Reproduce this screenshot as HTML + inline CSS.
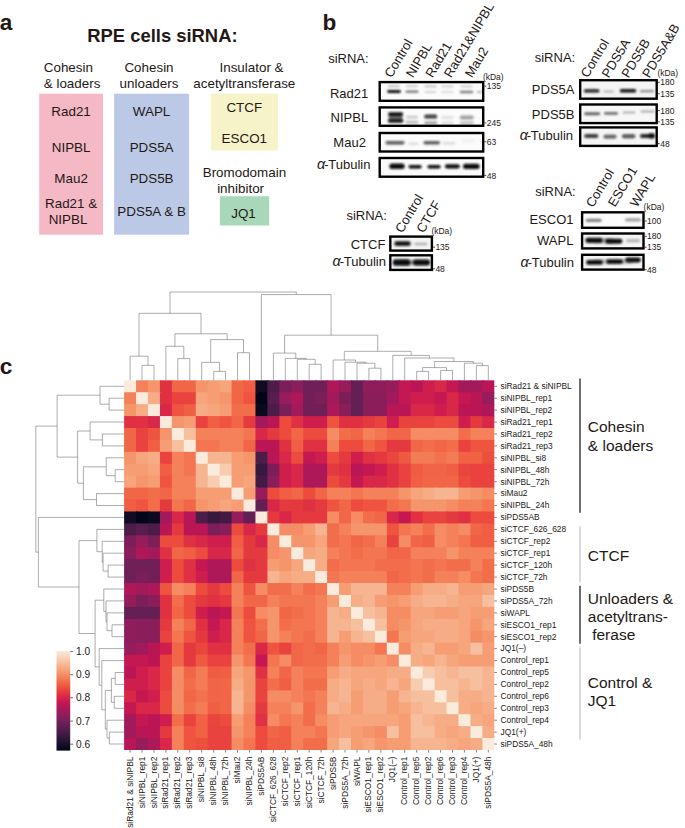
<!DOCTYPE html>
<html><head><meta charset="utf-8"><title>Figure</title>
<style>html,body{margin:0;padding:0;background:#fff}body{width:685px;height:828px;overflow:hidden}svg{display:block;font-family:"Liberation Sans",sans-serif}</style>
</head><body>
<svg width="685" height="828" viewBox="0 0 685 828">
<rect width="685" height="828" fill="#fff"/>
<g font-weight="bold" font-size="22.6" fill="#231815"><text x="-0.2" y="29.5">a</text><text x="322.6" y="29.5">b</text><text x="-0.2" y="373.6">c</text></g>
<text x="87.3" y="41.8" font-weight="bold" font-size="18.4" fill="#231815">RPE cells siRNA:</text>
<rect x="39.2" y="93.7" width="63.8" height="141" fill="#f5b9c5"/>
<rect x="114.1" y="93.7" width="75" height="141" fill="#bcc9e6"/>
<rect x="210.9" y="93.6" width="67" height="56.9" fill="#f7f3c8"/>
<rect x="219.9" y="196.2" width="49.3" height="29.3" fill="#a8d8b9"/>
<g font-size="13.4" fill="#231815">
<text x="43.8" y="71.8">Cohesin</text><text x="43.8" y="87.6">&amp; loaders</text>
<g text-anchor="middle">
<text x="149.0" y="71.8">Cohesin</text>
<text x="149.0" y="87.6">unloaders</text>
<text x="251.5" y="72.3">Insulator &amp;</text>
<text x="244.3" y="87.9">acetyltransferase</text>
<text x="244.4" y="177.4">Bromodomain</text>
<text x="240.6" y="193.4">inhibitor</text>
<text x="71.1" y="116.0">Rad21</text>
<text x="71.1" y="152.0">NIPBL</text>
<text x="71.1" y="182.8">Mau2</text>
<text x="71.1" y="208.1">Rad21 &amp;</text>
<text x="68.0" y="224.0">NIPBL</text>
<text x="151.6" y="116.0">WAPL</text>
<text x="151.6" y="152.0">PDS5A</text>
<text x="151.6" y="182.8">PDS5B</text>
<text x="151.6" y="215.8">PDS5A &amp; B</text>
<text x="244.3" y="112.0">CTCF</text>
<text x="244.3" y="142.9">ESCO1</text>
<text x="243.5" y="217.5">JQ1</text>
</g></g>
<defs><filter id="b1" x="-30%" y="-100%" width="160%" height="300%"><feGaussianBlur stdDeviation="1.15 0.85"/></filter><filter id="b2" x="-30%" y="-100%" width="160%" height="300%"><feGaussianBlur stdDeviation="1.6 1.0"/></filter></defs>
<clipPath id="c1"><rect x="378.5" y="80.9" width="105.9" height="21.1"/></clipPath>
<rect x="378.5" y="80.9" width="105.9" height="21.1" fill="#fbfbfb"/>
<g clip-path="url(#c1)" filter="url(#b1)">
<rect x="388.0" y="85.4" width="12.0" height="1.7" rx="0.8" fill="#0a0a0a" opacity="0.32"/>
<rect x="406.0" y="85.4" width="12.0" height="1.7" rx="0.8" fill="#0a0a0a" opacity="0.25"/>
<rect x="424.5" y="85.6" width="12.0" height="1.7" rx="0.8" fill="#0a0a0a" opacity="0.25"/>
<rect x="441.5" y="85.6" width="12.0" height="1.7" rx="0.8" fill="#0a0a0a" opacity="0.20"/>
<rect x="460.5" y="85.6" width="12.0" height="1.7" rx="0.8" fill="#0a0a0a" opacity="0.22"/>
<rect x="387.2" y="90.0" width="13.6" height="2.9" rx="1.4" fill="#0a0a0a" opacity="1.00"/>
<rect x="405.5" y="90.6" width="13.0" height="2.2" rx="1.0" fill="#0a0a0a" opacity="0.55"/>
<rect x="424.5" y="91.1" width="12.0" height="1.8" rx="0.9" fill="#0a0a0a" opacity="0.16"/>
<rect x="441.5" y="91.1" width="12.0" height="1.8" rx="0.9" fill="#0a0a0a" opacity="0.13"/>
<rect x="459.7" y="90.8" width="13.6" height="2.4" rx="1.1" fill="#0a0a0a" opacity="0.50"/>
<rect x="477.0" y="90.9" width="5.0" height="2.2" rx="1.0" fill="#0a0a0a" opacity="0.30"/>
</g>
<rect x="379.7" y="82.1" width="103.5" height="18.7" fill="none" stroke="#000" stroke-width="2.4"/>
<clipPath id="c2"><rect x="378.5" y="106.2" width="105.9" height="20.8"/></clipPath>
<rect x="378.5" y="106.2" width="105.9" height="20.8" fill="#fbfbfb"/>
<g clip-path="url(#c2)" filter="url(#b1)">
<rect x="388.1" y="112.2" width="15.0" height="3.9" rx="1.8" fill="#0a0a0a" opacity="1.00"/>
<rect x="387.8" y="118.9" width="15.6" height="3.9" rx="1.8" fill="#0a0a0a" opacity="0.95"/>
<rect x="388.6" y="114.6" width="14.0" height="5.9" rx="2.8" fill="#0a0a0a" opacity="0.55"/>
<rect x="406.0" y="115.7" width="12.0" height="2.9" rx="1.4" fill="#0a0a0a" opacity="0.20"/>
<rect x="405.5" y="120.8" width="13.0" height="2.9" rx="1.4" fill="#0a0a0a" opacity="0.25"/>
<rect x="424.2" y="114.6" width="13.0" height="4.0" rx="1.9" fill="#0a0a0a" opacity="0.80"/>
<rect x="424.2" y="121.4" width="13.0" height="2.9" rx="1.4" fill="#0a0a0a" opacity="0.38"/>
<rect x="441.5" y="116.0" width="12.0" height="2.9" rx="1.4" fill="#0a0a0a" opacity="0.10"/>
<rect x="441.5" y="121.4" width="12.0" height="2.9" rx="1.4" fill="#0a0a0a" opacity="0.12"/>
<rect x="459.8" y="115.4" width="14.0" height="4.2" rx="2.0" fill="#0a0a0a" opacity="0.36"/>
<rect x="459.8" y="121.4" width="14.0" height="2.9" rx="1.4" fill="#0a0a0a" opacity="0.25"/>
</g>
<rect x="379.7" y="107.4" width="103.5" height="18.4" fill="none" stroke="#000" stroke-width="2.4"/>
<clipPath id="c3"><rect x="378.5" y="131.8" width="105.9" height="20.9"/></clipPath>
<rect x="378.5" y="131.8" width="105.9" height="20.9" fill="#fbfbfb"/>
<g clip-path="url(#c3)" filter="url(#b1)">
<rect x="385.5" y="140.9" width="19.0" height="3.5" rx="1.7" fill="#0a0a0a" opacity="0.68"/>
<rect x="408.0" y="142.4" width="10.0" height="2.6" rx="1.2" fill="#0a0a0a" opacity="0.13"/>
<rect x="423.4" y="140.9" width="16.6" height="3.5" rx="1.7" fill="#0a0a0a" opacity="0.62"/>
<rect x="442.5" y="142.0" width="13.0" height="2.6" rx="1.2" fill="#0a0a0a" opacity="0.13"/>
<rect x="461.0" y="139.4" width="14.0" height="2.2" rx="1.0" fill="#0a0a0a" opacity="0.07"/>
</g>
<rect x="379.7" y="133.0" width="103.5" height="18.5" fill="none" stroke="#000" stroke-width="2.4"/>
<clipPath id="c4"><rect x="378.5" y="156.8" width="105.9" height="21.1"/></clipPath>
<rect x="378.5" y="156.8" width="105.9" height="21.1" fill="#fbfbfb"/>
<g clip-path="url(#c4)" filter="url(#b1)">
<rect x="389.4" y="163.6" width="15.2" height="5.3" rx="2.5" fill="#0a0a0a" opacity="1.00"/>
<rect x="408.5" y="164.9" width="13.2" height="3.5" rx="1.7" fill="#0a0a0a" opacity="1.00"/>
<rect x="427.4" y="164.9" width="13.2" height="3.5" rx="1.7" fill="#0a0a0a" opacity="1.00"/>
<rect x="445.0" y="164.2" width="14.8" height="4.4" rx="2.1" fill="#0a0a0a" opacity="1.00"/>
<rect x="463.0" y="163.7" width="16.6" height="5.3" rx="2.5" fill="#0a0a0a" opacity="1.00"/>
</g>
<rect x="379.7" y="158.0" width="103.5" height="18.7" fill="none" stroke="#000" stroke-width="2.4"/>
<clipPath id="c5"><rect x="579.0" y="79.0" width="78.9" height="20.9"/></clipPath>
<rect x="579.0" y="79.0" width="78.9" height="20.9" fill="#f4f4f4"/>
<g clip-path="url(#c5)" filter="url(#b1)">
<rect x="583.9" y="89.2" width="15.6" height="3.3" rx="1.6" fill="#0a0a0a" opacity="0.92"/>
<rect x="603.3" y="90.6" width="10.4" height="2.0" rx="1.0" fill="#0a0a0a" opacity="0.28"/>
<rect x="619.8" y="88.9" width="16.4" height="3.7" rx="1.7" fill="#0a0a0a" opacity="0.97"/>
<rect x="640.0" y="89.9" width="14.0" height="2.4" rx="1.1" fill="#0a0a0a" opacity="0.42"/>
</g>
<rect x="580.2" y="80.2" width="76.5" height="18.5" fill="none" stroke="#000" stroke-width="2.4"/>
<clipPath id="c6"><rect x="579.0" y="103.3" width="78.9" height="21.0"/></clipPath>
<rect x="579.0" y="103.3" width="78.9" height="21.0" fill="#f7f7f7"/>
<g clip-path="url(#c6)" filter="url(#b1)">
<rect x="584.2" y="112.3" width="16.0" height="2.9" rx="1.4" fill="#0a0a0a" opacity="0.60"/>
<rect x="604.0" y="112.0" width="14.0" height="2.8" rx="1.3" fill="#0a0a0a" opacity="0.55"/>
<rect x="622.5" y="111.6" width="13.0" height="2.0" rx="1.0" fill="#0a0a0a" opacity="0.30"/>
<rect x="640.5" y="110.6" width="14.0" height="2.0" rx="1.0" fill="#0a0a0a" opacity="0.33"/>
</g>
<rect x="580.2" y="104.5" width="76.5" height="18.6" fill="none" stroke="#000" stroke-width="2.4"/>
<clipPath id="c7"><rect x="579.0" y="126.2" width="78.9" height="20.9"/></clipPath>
<rect x="579.0" y="126.2" width="78.9" height="20.9" fill="#f4f4f4"/>
<g clip-path="url(#c7)" filter="url(#b1)">
<rect x="584.3" y="134.1" width="14.0" height="3.9" rx="1.8" fill="#0a0a0a" opacity="0.80"/>
<rect x="603.5" y="134.7" width="13.0" height="3.9" rx="1.8" fill="#0a0a0a" opacity="0.66"/>
<rect x="622.0" y="134.3" width="13.4" height="3.9" rx="1.8" fill="#0a0a0a" opacity="0.70"/>
<rect x="640.0" y="134.0" width="12.0" height="4.0" rx="1.9" fill="#0a0a0a" opacity="0.90"/>
<rect x="647.9" y="133.3" width="7.2" height="5.3" rx="2.5" fill="#0a0a0a" opacity="1.00"/>
</g>
<rect x="580.2" y="127.4" width="76.5" height="18.5" fill="none" stroke="#000" stroke-width="2.4"/>
<clipPath id="c8"><rect x="389.1" y="235.4" width="44.0" height="16.4"/></clipPath>
<rect x="389.1" y="235.4" width="44.0" height="16.4" fill="#f4f4f4"/>
<g clip-path="url(#c8)" filter="url(#b1)">
<rect x="394.7" y="241.5" width="15.6" height="4.2" rx="2.0" fill="#0a0a0a" opacity="1.00"/>
<rect x="393.5" y="240.8" width="18.0" height="5.5" rx="2.6" fill="#0a0a0a" opacity="0.25"/>
<rect x="414.4" y="242.7" width="13.0" height="2.6" rx="1.2" fill="#0a0a0a" opacity="0.28"/>
</g>
<rect x="390.3" y="236.6" width="41.6" height="14.0" fill="none" stroke="#000" stroke-width="2.4"/>
<clipPath id="c9"><rect x="389.1" y="254.1" width="44.0" height="17.0"/></clipPath>
<rect x="389.1" y="254.1" width="44.0" height="17.0" fill="#f4f4f4"/>
<g clip-path="url(#c9)" filter="url(#b1)">
<rect x="392.8" y="259.2" width="17.6" height="6.6" rx="3.1" fill="#0a0a0a" opacity="1.00"/>
<rect x="412.9" y="259.5" width="17.2" height="5.9" rx="2.8" fill="#0a0a0a" opacity="1.00"/>
<rect x="399.0" y="259.7" width="24.0" height="5.5" rx="2.6" fill="#0a0a0a" opacity="0.35"/>
</g>
<rect x="390.3" y="255.3" width="41.6" height="14.6" fill="none" stroke="#000" stroke-width="2.4"/>
<clipPath id="c10"><rect x="580.9" y="211.1" width="63.8" height="17.9"/></clipPath>
<rect x="580.9" y="211.1" width="63.8" height="17.9" fill="#fbfbfb"/>
<g clip-path="url(#c10)" filter="url(#b1)">
<rect x="585.7" y="218.7" width="16.0" height="3.3" rx="1.6" fill="#0a0a0a" opacity="0.48"/>
<rect x="625.0" y="218.3" width="16.0" height="3.1" rx="1.5" fill="#0a0a0a" opacity="0.36"/>
</g>
<rect x="582.1" y="212.3" width="61.4" height="15.5" fill="none" stroke="#000" stroke-width="2.4"/>
<clipPath id="c11"><rect x="580.9" y="232.3" width="63.8" height="17.3"/></clipPath>
<rect x="580.9" y="232.3" width="63.8" height="17.3" fill="#f4f4f4"/>
<g clip-path="url(#c11)" filter="url(#b1)">
<rect x="585.4" y="237.8" width="17.2" height="5.2" rx="2.4" fill="#0a0a0a" opacity="1.00"/>
<rect x="605.2" y="238.7" width="17.2" height="5.0" rx="2.4" fill="#0a0a0a" opacity="1.00"/>
<rect x="594.0" y="238.0" width="20.0" height="5.5" rx="2.6" fill="#0a0a0a" opacity="0.30"/>
<rect x="626.0" y="239.3" width="14.0" height="2.9" rx="1.4" fill="#0a0a0a" opacity="0.27"/>
</g>
<rect x="582.1" y="233.5" width="61.4" height="14.9" fill="none" stroke="#000" stroke-width="2.4"/>
<clipPath id="c12"><rect x="580.9" y="253.6" width="63.8" height="17.2"/></clipPath>
<rect x="580.9" y="253.6" width="63.8" height="17.2" fill="#f4f4f4"/>
<g clip-path="url(#c12)" filter="url(#b1)">
<rect x="586.2" y="260.1" width="16.6" height="4.6" rx="2.2" fill="#0a0a0a" opacity="1.00"/>
<rect x="606.3" y="259.3" width="16.6" height="4.6" rx="2.2" fill="#0a0a0a" opacity="1.00"/>
<rect x="625.2" y="257.6" width="15.6" height="4.8" rx="2.3" fill="#0a0a0a" opacity="1.00"/>
<rect x="593.0" y="259.1" width="40.0" height="4.8" rx="2.3" fill="#0a0a0a" opacity="0.22"/>
</g>
<rect x="582.1" y="254.8" width="61.4" height="14.8" fill="none" stroke="#000" stroke-width="2.4"/>
<g font-size="13" fill="#231815" text-anchor="end">
<text x="368.6" y="62.6">siRNA:</text>
<text x="368.2" y="98.2">Rad21</text>
<text x="368.2" y="122.0">NIPBL</text>
<text x="365.9" y="146.6">Mau2</text>
<text x="575.2" y="62.0">siRNA:</text>
<text x="574.5" y="94.4">PDS5A</text>
<text x="574.5" y="119.0">PDS5B</text>
<text x="386.9" y="219.9">siRNA:</text>
<text x="385.4" y="248.5">CTCF</text>
<text x="575.7" y="196.2">siRNA:</text>
<text x="573.5" y="224.0">ESCO1</text>
<text x="573.4" y="244.8">WAPL</text>
<text x="370.4" y="169.1"><tspan font-style="italic" font-size="14.5">α</tspan><tspan dx="-1.2">-</tspan><tspan dx="-0.3">Tubulin</tspan></text>
<text x="573.0" y="140.3"><tspan font-style="italic" font-size="14.5">α</tspan><tspan dx="-1.2">-</tspan><tspan dx="-0.3">Tubulin</tspan></text>
<text x="385.9" y="265.7"><tspan font-style="italic" font-size="14.5">α</tspan><tspan dx="-1.2">-</tspan><tspan dx="-0.3">Tubulin</tspan></text>
<text x="573.9" y="266.7"><tspan font-style="italic" font-size="14.5">α</tspan><tspan dx="-1.2">-</tspan><tspan dx="-0.3">Tubulin</tspan></text>
</g>
<g font-size="13" fill="#231815">
<text transform="translate(391.5 78.5) rotate(-59)">Control</text>
<text transform="translate(413.0 78.5) rotate(-59)">NIPBL</text>
<text transform="translate(432.5 78.5) rotate(-59)">Rad21</text>
<text transform="translate(451.0 78.5) rotate(-59)">Rad21&amp;NIPBL</text>
<text transform="translate(472.0 78.5) rotate(-59)">Mau2</text>
<text transform="translate(587.8 78.4) rotate(-59)">Control</text>
<text transform="translate(608.8 78.8) rotate(-59)">PDS5A</text>
<text transform="translate(628.6 78.8) rotate(-59)">PDS5B</text>
<text transform="translate(649.2 78.8) rotate(-59)">PDS5A&amp;B</text>
<text transform="translate(402.2 233.8) rotate(-59)">Control</text>
<text transform="translate(423.5 233.8) rotate(-59)">CTCF</text>
<text transform="translate(593.0 208.2) rotate(-59)">Control</text>
<text transform="translate(615.0 207.8) rotate(-59)">ESCO1</text>
<text transform="translate(637.0 208.0) rotate(-59)">WAPL</text>
</g>
<g font-size="8.5" fill="#231815">
<text x="486.7" y="89.2">135</text>
<text x="486.7" y="126.0">245</text>
<text x="486.7" y="144.9">63</text>
<text x="486.7" y="178.5">48</text>
<text x="660.2" y="85.3">180</text>
<text x="660.2" y="96.8">135</text>
<text x="660.2" y="113.6">180</text>
<text x="660.2" y="125.0">135</text>
<text x="660.2" y="146.8">48</text>
<text x="435.4" y="250.2">135</text>
<text x="435.4" y="271.8">48</text>
<text x="647.0" y="224.1">100</text>
<text x="647.0" y="239.4">180</text>
<text x="647.0" y="250.2">135</text>
<text x="647.0" y="272.8">48</text>
<text x="482.9" y="79.6">(kDa)</text>
<text x="657.4" y="75.6">(kDa)</text>
<text x="431.4" y="234.3">(kDa)</text>
<text x="643.6" y="209.5">(kDa)</text>
</g>
<path d="M484.4 86.2h1.9M484.4 122.9h1.9M484.4 141.8h1.9M484.4 175.4h1.9M657.9 82.3h1.9M657.9 93.8h1.9M657.9 110.6h1.9M657.9 121.9h1.9M657.9 143.7h1.9M433.1 247.1h1.9M433.1 268.7h1.9M644.7 221.0h1.9M644.7 236.3h1.9M644.7 247.2h1.9M644.7 269.7h1.9" stroke="#231815" stroke-width="0.8"/>
<g id="heat">
<rect x="124.10" y="380.30" width="13.24" height="13.23" fill="#faebdd"/>
<rect x="136.04" y="380.30" width="13.24" height="13.23" fill="#f5815a"/>
<rect x="147.98" y="380.30" width="13.24" height="13.23" fill="#f5956b"/>
<rect x="159.93" y="380.30" width="13.24" height="13.23" fill="#e03143"/>
<rect x="171.87" y="380.30" width="13.24" height="13.23" fill="#f16647"/>
<rect x="183.81" y="380.30" width="13.24" height="13.23" fill="#f16647"/>
<rect x="195.75" y="380.30" width="13.24" height="13.23" fill="#f5956b"/>
<rect x="207.69" y="380.30" width="13.24" height="13.23" fill="#f69d74"/>
<rect x="219.64" y="380.30" width="13.24" height="13.23" fill="#f6a57d"/>
<rect x="231.58" y="380.30" width="13.24" height="13.23" fill="#f16647"/>
<rect x="243.52" y="380.30" width="13.24" height="13.23" fill="#f05e43"/>
<rect x="255.46" y="380.30" width="13.24" height="13.23" fill="#110c24"/>
<rect x="267.40" y="380.30" width="13.24" height="13.23" fill="#4d1d4a"/>
<rect x="279.35" y="380.30" width="13.24" height="13.23" fill="#7c1f59"/>
<rect x="291.29" y="380.30" width="13.24" height="13.23" fill="#891e5b"/>
<rect x="303.23" y="380.30" width="13.24" height="13.23" fill="#701f57"/>
<rect x="315.17" y="380.30" width="13.24" height="13.23" fill="#701f57"/>
<rect x="327.11" y="380.30" width="13.24" height="13.23" fill="#ae1859"/>
<rect x="339.05" y="380.30" width="13.24" height="13.23" fill="#961c5b"/>
<rect x="351.00" y="380.30" width="13.24" height="13.23" fill="#641f54"/>
<rect x="362.94" y="380.30" width="13.24" height="13.23" fill="#8f1d5b"/>
<rect x="374.88" y="380.30" width="13.24" height="13.23" fill="#8f1d5b"/>
<rect x="386.82" y="380.30" width="13.24" height="13.23" fill="#961c5b"/>
<rect x="398.76" y="380.30" width="13.24" height="13.23" fill="#c51852"/>
<rect x="410.71" y="380.30" width="13.24" height="13.23" fill="#ba1656"/>
<rect x="422.65" y="380.30" width="13.24" height="13.23" fill="#cf1e4d"/>
<rect x="434.59" y="380.30" width="13.24" height="13.23" fill="#d82748"/>
<rect x="446.53" y="380.30" width="13.24" height="13.23" fill="#c51852"/>
<rect x="458.47" y="380.30" width="13.24" height="13.23" fill="#a21a5b"/>
<rect x="470.42" y="380.30" width="13.24" height="13.23" fill="#a21a5b"/>
<rect x="482.36" y="380.30" width="11.94" height="13.23" fill="#ba1656"/>
<rect x="124.10" y="392.23" width="13.24" height="13.23" fill="#f5815a"/>
<rect x="136.04" y="392.23" width="13.24" height="13.23" fill="#faebdd"/>
<rect x="147.98" y="392.23" width="13.24" height="13.23" fill="#f6ad86"/>
<rect x="159.93" y="392.23" width="13.24" height="13.23" fill="#e03143"/>
<rect x="171.87" y="392.23" width="13.24" height="13.23" fill="#e9423f"/>
<rect x="183.81" y="392.23" width="13.24" height="13.23" fill="#e9423f"/>
<rect x="195.75" y="392.23" width="13.24" height="13.23" fill="#f6a57d"/>
<rect x="207.69" y="392.23" width="13.24" height="13.23" fill="#f69d74"/>
<rect x="219.64" y="392.23" width="13.24" height="13.23" fill="#f5956b"/>
<rect x="231.58" y="392.23" width="13.24" height="13.23" fill="#f16647"/>
<rect x="243.52" y="392.23" width="13.24" height="13.23" fill="#ee5440"/>
<rect x="255.46" y="392.23" width="13.24" height="13.23" fill="#03051a"/>
<rect x="267.40" y="392.23" width="13.24" height="13.23" fill="#581e50"/>
<rect x="279.35" y="392.23" width="13.24" height="13.23" fill="#961c5b"/>
<rect x="291.29" y="392.23" width="13.24" height="13.23" fill="#ae1859"/>
<rect x="303.23" y="392.23" width="13.24" height="13.23" fill="#701f57"/>
<rect x="315.17" y="392.23" width="13.24" height="13.23" fill="#7c1f59"/>
<rect x="327.11" y="392.23" width="13.24" height="13.23" fill="#a21a5b"/>
<rect x="339.05" y="392.23" width="13.24" height="13.23" fill="#7c1f59"/>
<rect x="351.00" y="392.23" width="13.24" height="13.23" fill="#641f54"/>
<rect x="362.94" y="392.23" width="13.24" height="13.23" fill="#891e5b"/>
<rect x="374.88" y="392.23" width="13.24" height="13.23" fill="#891e5b"/>
<rect x="386.82" y="392.23" width="13.24" height="13.23" fill="#a21a5b"/>
<rect x="398.76" y="392.23" width="13.24" height="13.23" fill="#c51852"/>
<rect x="410.71" y="392.23" width="13.24" height="13.23" fill="#cf1e4d"/>
<rect x="422.65" y="392.23" width="13.24" height="13.23" fill="#cf1e4d"/>
<rect x="434.59" y="392.23" width="13.24" height="13.23" fill="#c51852"/>
<rect x="446.53" y="392.23" width="13.24" height="13.23" fill="#d82748"/>
<rect x="458.47" y="392.23" width="13.24" height="13.23" fill="#c51852"/>
<rect x="470.42" y="392.23" width="13.24" height="13.23" fill="#ba1656"/>
<rect x="482.36" y="392.23" width="11.94" height="13.23" fill="#961c5b"/>
<rect x="124.10" y="404.15" width="13.24" height="13.23" fill="#f5956b"/>
<rect x="136.04" y="404.15" width="13.24" height="13.23" fill="#f6ad86"/>
<rect x="147.98" y="404.15" width="13.24" height="13.23" fill="#faebdd"/>
<rect x="159.93" y="404.15" width="13.24" height="13.23" fill="#d82748"/>
<rect x="171.87" y="404.15" width="13.24" height="13.23" fill="#ee5440"/>
<rect x="183.81" y="404.15" width="13.24" height="13.23" fill="#f05e43"/>
<rect x="195.75" y="404.15" width="13.24" height="13.23" fill="#f6ad86"/>
<rect x="207.69" y="404.15" width="13.24" height="13.23" fill="#f6a57d"/>
<rect x="219.64" y="404.15" width="13.24" height="13.23" fill="#f69d74"/>
<rect x="231.58" y="404.15" width="13.24" height="13.23" fill="#f26e4b"/>
<rect x="243.52" y="404.15" width="13.24" height="13.23" fill="#f26e4b"/>
<rect x="255.46" y="404.15" width="13.24" height="13.23" fill="#0a091f"/>
<rect x="267.40" y="404.15" width="13.24" height="13.23" fill="#4d1d4a"/>
<rect x="279.35" y="404.15" width="13.24" height="13.23" fill="#7c1f59"/>
<rect x="291.29" y="404.15" width="13.24" height="13.23" fill="#a21a5b"/>
<rect x="303.23" y="404.15" width="13.24" height="13.23" fill="#701f57"/>
<rect x="315.17" y="404.15" width="13.24" height="13.23" fill="#701f57"/>
<rect x="327.11" y="404.15" width="13.24" height="13.23" fill="#ae1859"/>
<rect x="339.05" y="404.15" width="13.24" height="13.23" fill="#891e5b"/>
<rect x="351.00" y="404.15" width="13.24" height="13.23" fill="#641f54"/>
<rect x="362.94" y="404.15" width="13.24" height="13.23" fill="#891e5b"/>
<rect x="374.88" y="404.15" width="13.24" height="13.23" fill="#891e5b"/>
<rect x="386.82" y="404.15" width="13.24" height="13.23" fill="#ba1656"/>
<rect x="398.76" y="404.15" width="13.24" height="13.23" fill="#ba1656"/>
<rect x="410.71" y="404.15" width="13.24" height="13.23" fill="#d82748"/>
<rect x="422.65" y="404.15" width="13.24" height="13.23" fill="#d82748"/>
<rect x="434.59" y="404.15" width="13.24" height="13.23" fill="#cf1e4d"/>
<rect x="446.53" y="404.15" width="13.24" height="13.23" fill="#d82748"/>
<rect x="458.47" y="404.15" width="13.24" height="13.23" fill="#ba1656"/>
<rect x="470.42" y="404.15" width="13.24" height="13.23" fill="#ba1656"/>
<rect x="482.36" y="404.15" width="11.94" height="13.23" fill="#ae1859"/>
<rect x="124.10" y="416.08" width="13.24" height="13.23" fill="#e03143"/>
<rect x="136.04" y="416.08" width="13.24" height="13.23" fill="#e03143"/>
<rect x="147.98" y="416.08" width="13.24" height="13.23" fill="#d82748"/>
<rect x="159.93" y="416.08" width="13.24" height="13.23" fill="#faebdd"/>
<rect x="171.87" y="416.08" width="13.24" height="13.23" fill="#f5956b"/>
<rect x="183.81" y="416.08" width="13.24" height="13.23" fill="#f69d74"/>
<rect x="195.75" y="416.08" width="13.24" height="13.23" fill="#e9423f"/>
<rect x="207.69" y="416.08" width="13.24" height="13.23" fill="#f05e43"/>
<rect x="219.64" y="416.08" width="13.24" height="13.23" fill="#ee5440"/>
<rect x="231.58" y="416.08" width="13.24" height="13.23" fill="#f16647"/>
<rect x="243.52" y="416.08" width="13.24" height="13.23" fill="#e53940"/>
<rect x="255.46" y="416.08" width="13.24" height="13.23" fill="#a21a5b"/>
<rect x="267.40" y="416.08" width="13.24" height="13.23" fill="#ba1656"/>
<rect x="279.35" y="416.08" width="13.24" height="13.23" fill="#ec4b3e"/>
<rect x="291.29" y="416.08" width="13.24" height="13.23" fill="#e03143"/>
<rect x="303.23" y="416.08" width="13.24" height="13.23" fill="#cf1e4d"/>
<rect x="315.17" y="416.08" width="13.24" height="13.23" fill="#cf1e4d"/>
<rect x="327.11" y="416.08" width="13.24" height="13.23" fill="#ee5440"/>
<rect x="339.05" y="416.08" width="13.24" height="13.23" fill="#e03143"/>
<rect x="351.00" y="416.08" width="13.24" height="13.23" fill="#e03143"/>
<rect x="362.94" y="416.08" width="13.24" height="13.23" fill="#e53940"/>
<rect x="374.88" y="416.08" width="13.24" height="13.23" fill="#e9423f"/>
<rect x="386.82" y="416.08" width="13.24" height="13.23" fill="#cf1e4d"/>
<rect x="398.76" y="416.08" width="13.24" height="13.23" fill="#e9423f"/>
<rect x="410.71" y="416.08" width="13.24" height="13.23" fill="#e9423f"/>
<rect x="422.65" y="416.08" width="13.24" height="13.23" fill="#e9423f"/>
<rect x="434.59" y="416.08" width="13.24" height="13.23" fill="#ec4b3e"/>
<rect x="446.53" y="416.08" width="13.24" height="13.23" fill="#ec4b3e"/>
<rect x="458.47" y="416.08" width="13.24" height="13.23" fill="#cf1e4d"/>
<rect x="470.42" y="416.08" width="13.24" height="13.23" fill="#e53940"/>
<rect x="482.36" y="416.08" width="11.94" height="13.23" fill="#d82748"/>
<rect x="124.10" y="428.00" width="13.24" height="13.23" fill="#f16647"/>
<rect x="136.04" y="428.00" width="13.24" height="13.23" fill="#e9423f"/>
<rect x="147.98" y="428.00" width="13.24" height="13.23" fill="#ee5440"/>
<rect x="159.93" y="428.00" width="13.24" height="13.23" fill="#f5956b"/>
<rect x="171.87" y="428.00" width="13.24" height="13.23" fill="#faebdd"/>
<rect x="183.81" y="428.00" width="13.24" height="13.23" fill="#f6c09f"/>
<rect x="195.75" y="428.00" width="13.24" height="13.23" fill="#f5815a"/>
<rect x="207.69" y="428.00" width="13.24" height="13.23" fill="#f5815a"/>
<rect x="219.64" y="428.00" width="13.24" height="13.23" fill="#f5815a"/>
<rect x="231.58" y="428.00" width="13.24" height="13.23" fill="#f5815a"/>
<rect x="243.52" y="428.00" width="13.24" height="13.23" fill="#f37651"/>
<rect x="255.46" y="428.00" width="13.24" height="13.23" fill="#d82748"/>
<rect x="267.40" y="428.00" width="13.24" height="13.23" fill="#e53940"/>
<rect x="279.35" y="428.00" width="13.24" height="13.23" fill="#ec4b3e"/>
<rect x="291.29" y="428.00" width="13.24" height="13.23" fill="#f16647"/>
<rect x="303.23" y="428.00" width="13.24" height="13.23" fill="#ec4b3e"/>
<rect x="315.17" y="428.00" width="13.24" height="13.23" fill="#ec4b3e"/>
<rect x="327.11" y="428.00" width="13.24" height="13.23" fill="#f58c64"/>
<rect x="339.05" y="428.00" width="13.24" height="13.23" fill="#f26e4b"/>
<rect x="351.00" y="428.00" width="13.24" height="13.23" fill="#f16647"/>
<rect x="362.94" y="428.00" width="13.24" height="13.23" fill="#f5815a"/>
<rect x="374.88" y="428.00" width="13.24" height="13.23" fill="#f37651"/>
<rect x="386.82" y="428.00" width="13.24" height="13.23" fill="#f16647"/>
<rect x="398.76" y="428.00" width="13.24" height="13.23" fill="#f16647"/>
<rect x="410.71" y="428.00" width="13.24" height="13.23" fill="#f58c64"/>
<rect x="422.65" y="428.00" width="13.24" height="13.23" fill="#f58c64"/>
<rect x="434.59" y="428.00" width="13.24" height="13.23" fill="#f58c64"/>
<rect x="446.53" y="428.00" width="13.24" height="13.23" fill="#f58c64"/>
<rect x="458.47" y="428.00" width="13.24" height="13.23" fill="#f26e4b"/>
<rect x="470.42" y="428.00" width="13.24" height="13.23" fill="#f5815a"/>
<rect x="482.36" y="428.00" width="11.94" height="13.23" fill="#f5815a"/>
<rect x="124.10" y="439.93" width="13.24" height="13.23" fill="#f16647"/>
<rect x="136.04" y="439.93" width="13.24" height="13.23" fill="#e9423f"/>
<rect x="147.98" y="439.93" width="13.24" height="13.23" fill="#f05e43"/>
<rect x="159.93" y="439.93" width="13.24" height="13.23" fill="#f69d74"/>
<rect x="171.87" y="439.93" width="13.24" height="13.23" fill="#f6c09f"/>
<rect x="183.81" y="439.93" width="13.24" height="13.23" fill="#faebdd"/>
<rect x="195.75" y="439.93" width="13.24" height="13.23" fill="#f37651"/>
<rect x="207.69" y="439.93" width="13.24" height="13.23" fill="#f37651"/>
<rect x="219.64" y="439.93" width="13.24" height="13.23" fill="#f5815a"/>
<rect x="231.58" y="439.93" width="13.24" height="13.23" fill="#f5815a"/>
<rect x="243.52" y="439.93" width="13.24" height="13.23" fill="#f16647"/>
<rect x="255.46" y="439.93" width="13.24" height="13.23" fill="#ba1656"/>
<rect x="267.40" y="439.93" width="13.24" height="13.23" fill="#ba1656"/>
<rect x="279.35" y="439.93" width="13.24" height="13.23" fill="#e03143"/>
<rect x="291.29" y="439.93" width="13.24" height="13.23" fill="#f05e43"/>
<rect x="303.23" y="439.93" width="13.24" height="13.23" fill="#e03143"/>
<rect x="315.17" y="439.93" width="13.24" height="13.23" fill="#e03143"/>
<rect x="327.11" y="439.93" width="13.24" height="13.23" fill="#f5815a"/>
<rect x="339.05" y="439.93" width="13.24" height="13.23" fill="#ec4b3e"/>
<rect x="351.00" y="439.93" width="13.24" height="13.23" fill="#ec4b3e"/>
<rect x="362.94" y="439.93" width="13.24" height="13.23" fill="#f16647"/>
<rect x="374.88" y="439.93" width="13.24" height="13.23" fill="#ee5440"/>
<rect x="386.82" y="439.93" width="13.24" height="13.23" fill="#e53940"/>
<rect x="398.76" y="439.93" width="13.24" height="13.23" fill="#e53940"/>
<rect x="410.71" y="439.93" width="13.24" height="13.23" fill="#f16647"/>
<rect x="422.65" y="439.93" width="13.24" height="13.23" fill="#f26e4b"/>
<rect x="434.59" y="439.93" width="13.24" height="13.23" fill="#f16647"/>
<rect x="446.53" y="439.93" width="13.24" height="13.23" fill="#f26e4b"/>
<rect x="458.47" y="439.93" width="13.24" height="13.23" fill="#e9423f"/>
<rect x="470.42" y="439.93" width="13.24" height="13.23" fill="#ee5440"/>
<rect x="482.36" y="439.93" width="11.94" height="13.23" fill="#ee5440"/>
<rect x="124.10" y="451.85" width="13.24" height="13.23" fill="#f5956b"/>
<rect x="136.04" y="451.85" width="13.24" height="13.23" fill="#f6a57d"/>
<rect x="147.98" y="451.85" width="13.24" height="13.23" fill="#f6ad86"/>
<rect x="159.93" y="451.85" width="13.24" height="13.23" fill="#e9423f"/>
<rect x="171.87" y="451.85" width="13.24" height="13.23" fill="#f5815a"/>
<rect x="183.81" y="451.85" width="13.24" height="13.23" fill="#f37651"/>
<rect x="195.75" y="451.85" width="13.24" height="13.23" fill="#faebdd"/>
<rect x="207.69" y="451.85" width="13.24" height="13.23" fill="#f6b590"/>
<rect x="219.64" y="451.85" width="13.24" height="13.23" fill="#f6b590"/>
<rect x="231.58" y="451.85" width="13.24" height="13.23" fill="#f69d74"/>
<rect x="243.52" y="451.85" width="13.24" height="13.23" fill="#f5956b"/>
<rect x="255.46" y="451.85" width="13.24" height="13.23" fill="#4d1d4a"/>
<rect x="267.40" y="451.85" width="13.24" height="13.23" fill="#ba1656"/>
<rect x="279.35" y="451.85" width="13.24" height="13.23" fill="#d82748"/>
<rect x="291.29" y="451.85" width="13.24" height="13.23" fill="#ec4b3e"/>
<rect x="303.23" y="451.85" width="13.24" height="13.23" fill="#c51852"/>
<rect x="315.17" y="451.85" width="13.24" height="13.23" fill="#cf1e4d"/>
<rect x="327.11" y="451.85" width="13.24" height="13.23" fill="#ec4b3e"/>
<rect x="339.05" y="451.85" width="13.24" height="13.23" fill="#e53940"/>
<rect x="351.00" y="451.85" width="13.24" height="13.23" fill="#cf1e4d"/>
<rect x="362.94" y="451.85" width="13.24" height="13.23" fill="#e03143"/>
<rect x="374.88" y="451.85" width="13.24" height="13.23" fill="#e53940"/>
<rect x="386.82" y="451.85" width="13.24" height="13.23" fill="#ea463e"/>
<rect x="398.76" y="451.85" width="13.24" height="13.23" fill="#ef5941"/>
<rect x="410.71" y="451.85" width="13.24" height="13.23" fill="#f47c55"/>
<rect x="422.65" y="451.85" width="13.24" height="13.23" fill="#f47c55"/>
<rect x="434.59" y="451.85" width="13.24" height="13.23" fill="#f3724e"/>
<rect x="446.53" y="451.85" width="13.24" height="13.23" fill="#f47c55"/>
<rect x="458.47" y="451.85" width="13.24" height="13.23" fill="#f16245"/>
<rect x="470.42" y="451.85" width="13.24" height="13.23" fill="#f16245"/>
<rect x="482.36" y="451.85" width="11.94" height="13.23" fill="#ed4f3f"/>
<rect x="124.10" y="463.78" width="13.24" height="13.23" fill="#f69d74"/>
<rect x="136.04" y="463.78" width="13.24" height="13.23" fill="#f69d74"/>
<rect x="147.98" y="463.78" width="13.24" height="13.23" fill="#f6a57d"/>
<rect x="159.93" y="463.78" width="13.24" height="13.23" fill="#f05e43"/>
<rect x="171.87" y="463.78" width="13.24" height="13.23" fill="#f5815a"/>
<rect x="183.81" y="463.78" width="13.24" height="13.23" fill="#f37651"/>
<rect x="195.75" y="463.78" width="13.24" height="13.23" fill="#f6b590"/>
<rect x="207.69" y="463.78" width="13.24" height="13.23" fill="#faebdd"/>
<rect x="219.64" y="463.78" width="13.24" height="13.23" fill="#f7ccaf"/>
<rect x="231.58" y="463.78" width="13.24" height="13.23" fill="#f69d74"/>
<rect x="243.52" y="463.78" width="13.24" height="13.23" fill="#f69d74"/>
<rect x="255.46" y="463.78" width="13.24" height="13.23" fill="#37193f"/>
<rect x="267.40" y="463.78" width="13.24" height="13.23" fill="#7c1f59"/>
<rect x="279.35" y="463.78" width="13.24" height="13.23" fill="#cf1e4d"/>
<rect x="291.29" y="463.78" width="13.24" height="13.23" fill="#d82748"/>
<rect x="303.23" y="463.78" width="13.24" height="13.23" fill="#ae1859"/>
<rect x="315.17" y="463.78" width="13.24" height="13.23" fill="#ae1859"/>
<rect x="327.11" y="463.78" width="13.24" height="13.23" fill="#e53940"/>
<rect x="339.05" y="463.78" width="13.24" height="13.23" fill="#e03143"/>
<rect x="351.00" y="463.78" width="13.24" height="13.23" fill="#ba1656"/>
<rect x="362.94" y="463.78" width="13.24" height="13.23" fill="#c51852"/>
<rect x="374.88" y="463.78" width="13.24" height="13.23" fill="#cf1e4d"/>
<rect x="386.82" y="463.78" width="13.24" height="13.23" fill="#e03143"/>
<rect x="398.76" y="463.78" width="13.24" height="13.23" fill="#e9423f"/>
<rect x="410.71" y="463.78" width="13.24" height="13.23" fill="#f05c42"/>
<rect x="422.65" y="463.78" width="13.24" height="13.23" fill="#f16446"/>
<rect x="434.59" y="463.78" width="13.24" height="13.23" fill="#f16446"/>
<rect x="446.53" y="463.78" width="13.24" height="13.23" fill="#f05e43"/>
<rect x="458.47" y="463.78" width="13.24" height="13.23" fill="#e9443f"/>
<rect x="470.42" y="463.78" width="13.24" height="13.23" fill="#e9423f"/>
<rect x="482.36" y="463.78" width="11.94" height="13.23" fill="#e9423f"/>
<rect x="124.10" y="475.71" width="13.24" height="13.23" fill="#f6a57d"/>
<rect x="136.04" y="475.71" width="13.24" height="13.23" fill="#f5956b"/>
<rect x="147.98" y="475.71" width="13.24" height="13.23" fill="#f69d74"/>
<rect x="159.93" y="475.71" width="13.24" height="13.23" fill="#ee5440"/>
<rect x="171.87" y="475.71" width="13.24" height="13.23" fill="#f5815a"/>
<rect x="183.81" y="475.71" width="13.24" height="13.23" fill="#f5815a"/>
<rect x="195.75" y="475.71" width="13.24" height="13.23" fill="#f6b590"/>
<rect x="207.69" y="475.71" width="13.24" height="13.23" fill="#f7ccaf"/>
<rect x="219.64" y="475.71" width="13.24" height="13.23" fill="#faebdd"/>
<rect x="231.58" y="475.71" width="13.24" height="13.23" fill="#f69d74"/>
<rect x="243.52" y="475.71" width="13.24" height="13.23" fill="#f6a57d"/>
<rect x="255.46" y="475.71" width="13.24" height="13.23" fill="#421b45"/>
<rect x="267.40" y="475.71" width="13.24" height="13.23" fill="#891e5b"/>
<rect x="279.35" y="475.71" width="13.24" height="13.23" fill="#cf1e4d"/>
<rect x="291.29" y="475.71" width="13.24" height="13.23" fill="#d82748"/>
<rect x="303.23" y="475.71" width="13.24" height="13.23" fill="#ae1859"/>
<rect x="315.17" y="475.71" width="13.24" height="13.23" fill="#ae1859"/>
<rect x="327.11" y="475.71" width="13.24" height="13.23" fill="#ec4b3e"/>
<rect x="339.05" y="475.71" width="13.24" height="13.23" fill="#e53940"/>
<rect x="351.00" y="475.71" width="13.24" height="13.23" fill="#c51852"/>
<rect x="362.94" y="475.71" width="13.24" height="13.23" fill="#d82748"/>
<rect x="374.88" y="475.71" width="13.24" height="13.23" fill="#d82748"/>
<rect x="386.82" y="475.71" width="13.24" height="13.23" fill="#e03143"/>
<rect x="398.76" y="475.71" width="13.24" height="13.23" fill="#e9423f"/>
<rect x="410.71" y="475.71" width="13.24" height="13.23" fill="#f05e43"/>
<rect x="422.65" y="475.71" width="13.24" height="13.23" fill="#f16647"/>
<rect x="434.59" y="475.71" width="13.24" height="13.23" fill="#f16647"/>
<rect x="446.53" y="475.71" width="13.24" height="13.23" fill="#f16647"/>
<rect x="458.47" y="475.71" width="13.24" height="13.23" fill="#ec4b3e"/>
<rect x="470.42" y="475.71" width="13.24" height="13.23" fill="#e9423f"/>
<rect x="482.36" y="475.71" width="11.94" height="13.23" fill="#e9423f"/>
<rect x="124.10" y="487.63" width="13.24" height="13.23" fill="#f16647"/>
<rect x="136.04" y="487.63" width="13.24" height="13.23" fill="#f16647"/>
<rect x="147.98" y="487.63" width="13.24" height="13.23" fill="#f26e4b"/>
<rect x="159.93" y="487.63" width="13.24" height="13.23" fill="#f16647"/>
<rect x="171.87" y="487.63" width="13.24" height="13.23" fill="#f5815a"/>
<rect x="183.81" y="487.63" width="13.24" height="13.23" fill="#f5815a"/>
<rect x="195.75" y="487.63" width="13.24" height="13.23" fill="#f69d74"/>
<rect x="207.69" y="487.63" width="13.24" height="13.23" fill="#f69d74"/>
<rect x="219.64" y="487.63" width="13.24" height="13.23" fill="#f69d74"/>
<rect x="231.58" y="487.63" width="13.24" height="13.23" fill="#faebdd"/>
<rect x="243.52" y="487.63" width="13.24" height="13.23" fill="#f69d74"/>
<rect x="255.46" y="487.63" width="13.24" height="13.23" fill="#961c5b"/>
<rect x="267.40" y="487.63" width="13.24" height="13.23" fill="#ec4b3e"/>
<rect x="279.35" y="487.63" width="13.24" height="13.23" fill="#f05e43"/>
<rect x="291.29" y="487.63" width="13.24" height="13.23" fill="#f16647"/>
<rect x="303.23" y="487.63" width="13.24" height="13.23" fill="#ec4b3e"/>
<rect x="315.17" y="487.63" width="13.24" height="13.23" fill="#f16647"/>
<rect x="327.11" y="487.63" width="13.24" height="13.23" fill="#f5815a"/>
<rect x="339.05" y="487.63" width="13.24" height="13.23" fill="#f5815a"/>
<rect x="351.00" y="487.63" width="13.24" height="13.23" fill="#f37651"/>
<rect x="362.94" y="487.63" width="13.24" height="13.23" fill="#f5815a"/>
<rect x="374.88" y="487.63" width="13.24" height="13.23" fill="#f5815a"/>
<rect x="386.82" y="487.63" width="13.24" height="13.23" fill="#f5815a"/>
<rect x="398.76" y="487.63" width="13.24" height="13.23" fill="#f5956b"/>
<rect x="410.71" y="487.63" width="13.24" height="13.23" fill="#f6a57d"/>
<rect x="422.65" y="487.63" width="13.24" height="13.23" fill="#f6ad86"/>
<rect x="434.59" y="487.63" width="13.24" height="13.23" fill="#f6b590"/>
<rect x="446.53" y="487.63" width="13.24" height="13.23" fill="#f6b590"/>
<rect x="458.47" y="487.63" width="13.24" height="13.23" fill="#f69d74"/>
<rect x="470.42" y="487.63" width="13.24" height="13.23" fill="#f5956b"/>
<rect x="482.36" y="487.63" width="11.94" height="13.23" fill="#f58c64"/>
<rect x="124.10" y="499.56" width="13.24" height="13.23" fill="#f05e43"/>
<rect x="136.04" y="499.56" width="13.24" height="13.23" fill="#ee5440"/>
<rect x="147.98" y="499.56" width="13.24" height="13.23" fill="#f26e4b"/>
<rect x="159.93" y="499.56" width="13.24" height="13.23" fill="#e53940"/>
<rect x="171.87" y="499.56" width="13.24" height="13.23" fill="#f37651"/>
<rect x="183.81" y="499.56" width="13.24" height="13.23" fill="#f16647"/>
<rect x="195.75" y="499.56" width="13.24" height="13.23" fill="#f5956b"/>
<rect x="207.69" y="499.56" width="13.24" height="13.23" fill="#f69d74"/>
<rect x="219.64" y="499.56" width="13.24" height="13.23" fill="#f6a57d"/>
<rect x="231.58" y="499.56" width="13.24" height="13.23" fill="#f69d74"/>
<rect x="243.52" y="499.56" width="13.24" height="13.23" fill="#faebdd"/>
<rect x="255.46" y="499.56" width="13.24" height="13.23" fill="#641f54"/>
<rect x="267.40" y="499.56" width="13.24" height="13.23" fill="#d82748"/>
<rect x="279.35" y="499.56" width="13.24" height="13.23" fill="#e53940"/>
<rect x="291.29" y="499.56" width="13.24" height="13.23" fill="#e53940"/>
<rect x="303.23" y="499.56" width="13.24" height="13.23" fill="#e03143"/>
<rect x="315.17" y="499.56" width="13.24" height="13.23" fill="#e53940"/>
<rect x="327.11" y="499.56" width="13.24" height="13.23" fill="#ee5440"/>
<rect x="339.05" y="499.56" width="13.24" height="13.23" fill="#f16647"/>
<rect x="351.00" y="499.56" width="13.24" height="13.23" fill="#ec4b3e"/>
<rect x="362.94" y="499.56" width="13.24" height="13.23" fill="#ee5440"/>
<rect x="374.88" y="499.56" width="13.24" height="13.23" fill="#ee5440"/>
<rect x="386.82" y="499.56" width="13.24" height="13.23" fill="#f26e4b"/>
<rect x="398.76" y="499.56" width="13.24" height="13.23" fill="#f37651"/>
<rect x="410.71" y="499.56" width="13.24" height="13.23" fill="#f5956b"/>
<rect x="422.65" y="499.56" width="13.24" height="13.23" fill="#f5956b"/>
<rect x="434.59" y="499.56" width="13.24" height="13.23" fill="#f5956b"/>
<rect x="446.53" y="499.56" width="13.24" height="13.23" fill="#f58c64"/>
<rect x="458.47" y="499.56" width="13.24" height="13.23" fill="#f5815a"/>
<rect x="470.42" y="499.56" width="13.24" height="13.23" fill="#f5815a"/>
<rect x="482.36" y="499.56" width="11.94" height="13.23" fill="#f37651"/>
<rect x="124.10" y="511.48" width="13.24" height="13.23" fill="#110c24"/>
<rect x="136.04" y="511.48" width="13.24" height="13.23" fill="#03051a"/>
<rect x="147.98" y="511.48" width="13.24" height="13.23" fill="#0a091f"/>
<rect x="159.93" y="511.48" width="13.24" height="13.23" fill="#a21a5b"/>
<rect x="171.87" y="511.48" width="13.24" height="13.23" fill="#d82748"/>
<rect x="183.81" y="511.48" width="13.24" height="13.23" fill="#ba1656"/>
<rect x="195.75" y="511.48" width="13.24" height="13.23" fill="#4d1d4a"/>
<rect x="207.69" y="511.48" width="13.24" height="13.23" fill="#37193f"/>
<rect x="219.64" y="511.48" width="13.24" height="13.23" fill="#421b45"/>
<rect x="231.58" y="511.48" width="13.24" height="13.23" fill="#961c5b"/>
<rect x="243.52" y="511.48" width="13.24" height="13.23" fill="#641f54"/>
<rect x="255.46" y="511.48" width="13.24" height="13.23" fill="#faebdd"/>
<rect x="267.40" y="511.48" width="13.24" height="13.23" fill="#e53940"/>
<rect x="279.35" y="511.48" width="13.24" height="13.23" fill="#d82748"/>
<rect x="291.29" y="511.48" width="13.24" height="13.23" fill="#e53940"/>
<rect x="303.23" y="511.48" width="13.24" height="13.23" fill="#e53940"/>
<rect x="315.17" y="511.48" width="13.24" height="13.23" fill="#e53940"/>
<rect x="327.11" y="511.48" width="13.24" height="13.23" fill="#f58c64"/>
<rect x="339.05" y="511.48" width="13.24" height="13.23" fill="#f16647"/>
<rect x="351.00" y="511.48" width="13.24" height="13.23" fill="#f58c64"/>
<rect x="362.94" y="511.48" width="13.24" height="13.23" fill="#f26e4b"/>
<rect x="374.88" y="511.48" width="13.24" height="13.23" fill="#f16647"/>
<rect x="386.82" y="511.48" width="13.24" height="13.23" fill="#d82748"/>
<rect x="398.76" y="511.48" width="13.24" height="13.23" fill="#c51852"/>
<rect x="410.71" y="511.48" width="13.24" height="13.23" fill="#e03143"/>
<rect x="422.65" y="511.48" width="13.24" height="13.23" fill="#e9423f"/>
<rect x="434.59" y="511.48" width="13.24" height="13.23" fill="#e9423f"/>
<rect x="446.53" y="511.48" width="13.24" height="13.23" fill="#e53940"/>
<rect x="458.47" y="511.48" width="13.24" height="13.23" fill="#e03143"/>
<rect x="470.42" y="511.48" width="13.24" height="13.23" fill="#ec4b3e"/>
<rect x="482.36" y="511.48" width="11.94" height="13.23" fill="#ec4b3e"/>
<rect x="124.10" y="523.41" width="13.24" height="13.23" fill="#4d1d4a"/>
<rect x="136.04" y="523.41" width="13.24" height="13.23" fill="#581e50"/>
<rect x="147.98" y="523.41" width="13.24" height="13.23" fill="#4d1d4a"/>
<rect x="159.93" y="523.41" width="13.24" height="13.23" fill="#ba1656"/>
<rect x="171.87" y="523.41" width="13.24" height="13.23" fill="#e53940"/>
<rect x="183.81" y="523.41" width="13.24" height="13.23" fill="#ba1656"/>
<rect x="195.75" y="523.41" width="13.24" height="13.23" fill="#ba1656"/>
<rect x="207.69" y="523.41" width="13.24" height="13.23" fill="#7c1f59"/>
<rect x="219.64" y="523.41" width="13.24" height="13.23" fill="#891e5b"/>
<rect x="231.58" y="523.41" width="13.24" height="13.23" fill="#ec4b3e"/>
<rect x="243.52" y="523.41" width="13.24" height="13.23" fill="#d82748"/>
<rect x="255.46" y="523.41" width="13.24" height="13.23" fill="#e53940"/>
<rect x="267.40" y="523.41" width="13.24" height="13.23" fill="#faebdd"/>
<rect x="279.35" y="523.41" width="13.24" height="13.23" fill="#f58c64"/>
<rect x="291.29" y="523.41" width="13.24" height="13.23" fill="#f58c64"/>
<rect x="303.23" y="523.41" width="13.24" height="13.23" fill="#f69d74"/>
<rect x="315.17" y="523.41" width="13.24" height="13.23" fill="#f6b590"/>
<rect x="327.11" y="523.41" width="13.24" height="13.23" fill="#f26e4b"/>
<rect x="339.05" y="523.41" width="13.24" height="13.23" fill="#f5815a"/>
<rect x="351.00" y="523.41" width="13.24" height="13.23" fill="#f5956b"/>
<rect x="362.94" y="523.41" width="13.24" height="13.23" fill="#f5956b"/>
<rect x="374.88" y="523.41" width="13.24" height="13.23" fill="#f5956b"/>
<rect x="386.82" y="523.41" width="13.24" height="13.23" fill="#ee5440"/>
<rect x="398.76" y="523.41" width="13.24" height="13.23" fill="#f37651"/>
<rect x="410.71" y="523.41" width="13.24" height="13.23" fill="#f5815a"/>
<rect x="422.65" y="523.41" width="13.24" height="13.23" fill="#f26e4b"/>
<rect x="434.59" y="523.41" width="13.24" height="13.23" fill="#f58c64"/>
<rect x="446.53" y="523.41" width="13.24" height="13.23" fill="#f5815a"/>
<rect x="458.47" y="523.41" width="13.24" height="13.23" fill="#f58c64"/>
<rect x="470.42" y="523.41" width="13.24" height="13.23" fill="#f16647"/>
<rect x="482.36" y="523.41" width="11.94" height="13.23" fill="#f05e43"/>
<rect x="124.10" y="535.34" width="13.24" height="13.23" fill="#7c1f59"/>
<rect x="136.04" y="535.34" width="13.24" height="13.23" fill="#961c5b"/>
<rect x="147.98" y="535.34" width="13.24" height="13.23" fill="#7c1f59"/>
<rect x="159.93" y="535.34" width="13.24" height="13.23" fill="#ec4b3e"/>
<rect x="171.87" y="535.34" width="13.24" height="13.23" fill="#ec4b3e"/>
<rect x="183.81" y="535.34" width="13.24" height="13.23" fill="#e03143"/>
<rect x="195.75" y="535.34" width="13.24" height="13.23" fill="#d82748"/>
<rect x="207.69" y="535.34" width="13.24" height="13.23" fill="#cf1e4d"/>
<rect x="219.64" y="535.34" width="13.24" height="13.23" fill="#cf1e4d"/>
<rect x="231.58" y="535.34" width="13.24" height="13.23" fill="#f05e43"/>
<rect x="243.52" y="535.34" width="13.24" height="13.23" fill="#e53940"/>
<rect x="255.46" y="535.34" width="13.24" height="13.23" fill="#d82748"/>
<rect x="267.40" y="535.34" width="13.24" height="13.23" fill="#f58c64"/>
<rect x="279.35" y="535.34" width="13.24" height="13.23" fill="#faebdd"/>
<rect x="291.29" y="535.34" width="13.24" height="13.23" fill="#f5956b"/>
<rect x="303.23" y="535.34" width="13.24" height="13.23" fill="#f5956b"/>
<rect x="315.17" y="535.34" width="13.24" height="13.23" fill="#f6a57d"/>
<rect x="327.11" y="535.34" width="13.24" height="13.23" fill="#f26e4b"/>
<rect x="339.05" y="535.34" width="13.24" height="13.23" fill="#f37651"/>
<rect x="351.00" y="535.34" width="13.24" height="13.23" fill="#f16647"/>
<rect x="362.94" y="535.34" width="13.24" height="13.23" fill="#f26e4b"/>
<rect x="374.88" y="535.34" width="13.24" height="13.23" fill="#f5815a"/>
<rect x="386.82" y="535.34" width="13.24" height="13.23" fill="#e9423f"/>
<rect x="398.76" y="535.34" width="13.24" height="13.23" fill="#f58c64"/>
<rect x="410.71" y="535.34" width="13.24" height="13.23" fill="#f16647"/>
<rect x="422.65" y="535.34" width="13.24" height="13.23" fill="#f05e43"/>
<rect x="434.59" y="535.34" width="13.24" height="13.23" fill="#f58c64"/>
<rect x="446.53" y="535.34" width="13.24" height="13.23" fill="#f5815a"/>
<rect x="458.47" y="535.34" width="13.24" height="13.23" fill="#f37651"/>
<rect x="470.42" y="535.34" width="13.24" height="13.23" fill="#f05e43"/>
<rect x="482.36" y="535.34" width="11.94" height="13.23" fill="#f05e43"/>
<rect x="124.10" y="547.26" width="13.24" height="13.23" fill="#891e5b"/>
<rect x="136.04" y="547.26" width="13.24" height="13.23" fill="#ae1859"/>
<rect x="147.98" y="547.26" width="13.24" height="13.23" fill="#a21a5b"/>
<rect x="159.93" y="547.26" width="13.24" height="13.23" fill="#e03143"/>
<rect x="171.87" y="547.26" width="13.24" height="13.23" fill="#f16647"/>
<rect x="183.81" y="547.26" width="13.24" height="13.23" fill="#f05e43"/>
<rect x="195.75" y="547.26" width="13.24" height="13.23" fill="#ec4b3e"/>
<rect x="207.69" y="547.26" width="13.24" height="13.23" fill="#d82748"/>
<rect x="219.64" y="547.26" width="13.24" height="13.23" fill="#d82748"/>
<rect x="231.58" y="547.26" width="13.24" height="13.23" fill="#f16647"/>
<rect x="243.52" y="547.26" width="13.24" height="13.23" fill="#e53940"/>
<rect x="255.46" y="547.26" width="13.24" height="13.23" fill="#e53940"/>
<rect x="267.40" y="547.26" width="13.24" height="13.23" fill="#f58c64"/>
<rect x="279.35" y="547.26" width="13.24" height="13.23" fill="#f5956b"/>
<rect x="291.29" y="547.26" width="13.24" height="13.23" fill="#faebdd"/>
<rect x="303.23" y="547.26" width="13.24" height="13.23" fill="#f6a57d"/>
<rect x="315.17" y="547.26" width="13.24" height="13.23" fill="#f6ad86"/>
<rect x="327.11" y="547.26" width="13.24" height="13.23" fill="#f5815a"/>
<rect x="339.05" y="547.26" width="13.24" height="13.23" fill="#f37651"/>
<rect x="351.00" y="547.26" width="13.24" height="13.23" fill="#f26e4b"/>
<rect x="362.94" y="547.26" width="13.24" height="13.23" fill="#f37651"/>
<rect x="374.88" y="547.26" width="13.24" height="13.23" fill="#f37651"/>
<rect x="386.82" y="547.26" width="13.24" height="13.23" fill="#f16647"/>
<rect x="398.76" y="547.26" width="13.24" height="13.23" fill="#f16647"/>
<rect x="410.71" y="547.26" width="13.24" height="13.23" fill="#f5815a"/>
<rect x="422.65" y="547.26" width="13.24" height="13.23" fill="#f5815a"/>
<rect x="434.59" y="547.26" width="13.24" height="13.23" fill="#f5815a"/>
<rect x="446.53" y="547.26" width="13.24" height="13.23" fill="#f5956b"/>
<rect x="458.47" y="547.26" width="13.24" height="13.23" fill="#f5815a"/>
<rect x="470.42" y="547.26" width="13.24" height="13.23" fill="#f5815a"/>
<rect x="482.36" y="547.26" width="11.94" height="13.23" fill="#f5815a"/>
<rect x="124.10" y="559.19" width="13.24" height="13.23" fill="#701f57"/>
<rect x="136.04" y="559.19" width="13.24" height="13.23" fill="#701f57"/>
<rect x="147.98" y="559.19" width="13.24" height="13.23" fill="#701f57"/>
<rect x="159.93" y="559.19" width="13.24" height="13.23" fill="#cf1e4d"/>
<rect x="171.87" y="559.19" width="13.24" height="13.23" fill="#ec4b3e"/>
<rect x="183.81" y="559.19" width="13.24" height="13.23" fill="#e03143"/>
<rect x="195.75" y="559.19" width="13.24" height="13.23" fill="#c51852"/>
<rect x="207.69" y="559.19" width="13.24" height="13.23" fill="#ae1859"/>
<rect x="219.64" y="559.19" width="13.24" height="13.23" fill="#ae1859"/>
<rect x="231.58" y="559.19" width="13.24" height="13.23" fill="#ec4b3e"/>
<rect x="243.52" y="559.19" width="13.24" height="13.23" fill="#e03143"/>
<rect x="255.46" y="559.19" width="13.24" height="13.23" fill="#e53940"/>
<rect x="267.40" y="559.19" width="13.24" height="13.23" fill="#f69d74"/>
<rect x="279.35" y="559.19" width="13.24" height="13.23" fill="#f5956b"/>
<rect x="291.29" y="559.19" width="13.24" height="13.23" fill="#f6a57d"/>
<rect x="303.23" y="559.19" width="13.24" height="13.23" fill="#faebdd"/>
<rect x="315.17" y="559.19" width="13.24" height="13.23" fill="#f6ad86"/>
<rect x="327.11" y="559.19" width="13.24" height="13.23" fill="#f26e4b"/>
<rect x="339.05" y="559.19" width="13.24" height="13.23" fill="#f37651"/>
<rect x="351.00" y="559.19" width="13.24" height="13.23" fill="#f37651"/>
<rect x="362.94" y="559.19" width="13.24" height="13.23" fill="#f37651"/>
<rect x="374.88" y="559.19" width="13.24" height="13.23" fill="#f26e4b"/>
<rect x="386.82" y="559.19" width="13.24" height="13.23" fill="#f26e4b"/>
<rect x="398.76" y="559.19" width="13.24" height="13.23" fill="#f26e4b"/>
<rect x="410.71" y="559.19" width="13.24" height="13.23" fill="#f37651"/>
<rect x="422.65" y="559.19" width="13.24" height="13.23" fill="#f26e4b"/>
<rect x="434.59" y="559.19" width="13.24" height="13.23" fill="#f37651"/>
<rect x="446.53" y="559.19" width="13.24" height="13.23" fill="#f26e4b"/>
<rect x="458.47" y="559.19" width="13.24" height="13.23" fill="#f26e4b"/>
<rect x="470.42" y="559.19" width="13.24" height="13.23" fill="#f5815a"/>
<rect x="482.36" y="559.19" width="11.94" height="13.23" fill="#f26e4b"/>
<rect x="124.10" y="571.11" width="13.24" height="13.23" fill="#701f57"/>
<rect x="136.04" y="571.11" width="13.24" height="13.23" fill="#7c1f59"/>
<rect x="147.98" y="571.11" width="13.24" height="13.23" fill="#701f57"/>
<rect x="159.93" y="571.11" width="13.24" height="13.23" fill="#cf1e4d"/>
<rect x="171.87" y="571.11" width="13.24" height="13.23" fill="#ec4b3e"/>
<rect x="183.81" y="571.11" width="13.24" height="13.23" fill="#e03143"/>
<rect x="195.75" y="571.11" width="13.24" height="13.23" fill="#cf1e4d"/>
<rect x="207.69" y="571.11" width="13.24" height="13.23" fill="#ae1859"/>
<rect x="219.64" y="571.11" width="13.24" height="13.23" fill="#ae1859"/>
<rect x="231.58" y="571.11" width="13.24" height="13.23" fill="#f16647"/>
<rect x="243.52" y="571.11" width="13.24" height="13.23" fill="#e53940"/>
<rect x="255.46" y="571.11" width="13.24" height="13.23" fill="#e53940"/>
<rect x="267.40" y="571.11" width="13.24" height="13.23" fill="#f6b590"/>
<rect x="279.35" y="571.11" width="13.24" height="13.23" fill="#f6a57d"/>
<rect x="291.29" y="571.11" width="13.24" height="13.23" fill="#f6ad86"/>
<rect x="303.23" y="571.11" width="13.24" height="13.23" fill="#f6ad86"/>
<rect x="315.17" y="571.11" width="13.24" height="13.23" fill="#faebdd"/>
<rect x="327.11" y="571.11" width="13.24" height="13.23" fill="#f37651"/>
<rect x="339.05" y="571.11" width="13.24" height="13.23" fill="#f5815a"/>
<rect x="351.00" y="571.11" width="13.24" height="13.23" fill="#f5815a"/>
<rect x="362.94" y="571.11" width="13.24" height="13.23" fill="#f5815a"/>
<rect x="374.88" y="571.11" width="13.24" height="13.23" fill="#f5815a"/>
<rect x="386.82" y="571.11" width="13.24" height="13.23" fill="#f16647"/>
<rect x="398.76" y="571.11" width="13.24" height="13.23" fill="#f26e4b"/>
<rect x="410.71" y="571.11" width="13.24" height="13.23" fill="#f37651"/>
<rect x="422.65" y="571.11" width="13.24" height="13.23" fill="#f26e4b"/>
<rect x="434.59" y="571.11" width="13.24" height="13.23" fill="#f5815a"/>
<rect x="446.53" y="571.11" width="13.24" height="13.23" fill="#f5815a"/>
<rect x="458.47" y="571.11" width="13.24" height="13.23" fill="#f58c64"/>
<rect x="470.42" y="571.11" width="13.24" height="13.23" fill="#f37651"/>
<rect x="482.36" y="571.11" width="11.94" height="13.23" fill="#f26e4b"/>
<rect x="124.10" y="583.04" width="13.24" height="13.23" fill="#ae1859"/>
<rect x="136.04" y="583.04" width="13.24" height="13.23" fill="#a21a5b"/>
<rect x="147.98" y="583.04" width="13.24" height="13.23" fill="#ae1859"/>
<rect x="159.93" y="583.04" width="13.24" height="13.23" fill="#ee5440"/>
<rect x="171.87" y="583.04" width="13.24" height="13.23" fill="#f58c64"/>
<rect x="183.81" y="583.04" width="13.24" height="13.23" fill="#f5815a"/>
<rect x="195.75" y="583.04" width="13.24" height="13.23" fill="#ec4b3e"/>
<rect x="207.69" y="583.04" width="13.24" height="13.23" fill="#e53940"/>
<rect x="219.64" y="583.04" width="13.24" height="13.23" fill="#ec4b3e"/>
<rect x="231.58" y="583.04" width="13.24" height="13.23" fill="#f5815a"/>
<rect x="243.52" y="583.04" width="13.24" height="13.23" fill="#ee5440"/>
<rect x="255.46" y="583.04" width="13.24" height="13.23" fill="#f58c64"/>
<rect x="267.40" y="583.04" width="13.24" height="13.23" fill="#f26e4b"/>
<rect x="279.35" y="583.04" width="13.24" height="13.23" fill="#f26e4b"/>
<rect x="291.29" y="583.04" width="13.24" height="13.23" fill="#f5815a"/>
<rect x="303.23" y="583.04" width="13.24" height="13.23" fill="#f26e4b"/>
<rect x="315.17" y="583.04" width="13.24" height="13.23" fill="#f37651"/>
<rect x="327.11" y="583.04" width="13.24" height="13.23" fill="#faebdd"/>
<rect x="339.05" y="583.04" width="13.24" height="13.23" fill="#f69d74"/>
<rect x="351.00" y="583.04" width="13.24" height="13.23" fill="#f6b590"/>
<rect x="362.94" y="583.04" width="13.24" height="13.23" fill="#f6b590"/>
<rect x="374.88" y="583.04" width="13.24" height="13.23" fill="#f6b590"/>
<rect x="386.82" y="583.04" width="13.24" height="13.23" fill="#f5815a"/>
<rect x="398.76" y="583.04" width="13.24" height="13.23" fill="#f5815a"/>
<rect x="410.71" y="583.04" width="13.24" height="13.23" fill="#f69d74"/>
<rect x="422.65" y="583.04" width="13.24" height="13.23" fill="#f6ad86"/>
<rect x="434.59" y="583.04" width="13.24" height="13.23" fill="#f6ad86"/>
<rect x="446.53" y="583.04" width="13.24" height="13.23" fill="#f6b590"/>
<rect x="458.47" y="583.04" width="13.24" height="13.23" fill="#f69d74"/>
<rect x="470.42" y="583.04" width="13.24" height="13.23" fill="#f69d74"/>
<rect x="482.36" y="583.04" width="11.94" height="13.23" fill="#f6a57d"/>
<rect x="124.10" y="594.96" width="13.24" height="13.23" fill="#961c5b"/>
<rect x="136.04" y="594.96" width="13.24" height="13.23" fill="#7c1f59"/>
<rect x="147.98" y="594.96" width="13.24" height="13.23" fill="#891e5b"/>
<rect x="159.93" y="594.96" width="13.24" height="13.23" fill="#e03143"/>
<rect x="171.87" y="594.96" width="13.24" height="13.23" fill="#f26e4b"/>
<rect x="183.81" y="594.96" width="13.24" height="13.23" fill="#ec4b3e"/>
<rect x="195.75" y="594.96" width="13.24" height="13.23" fill="#e53940"/>
<rect x="207.69" y="594.96" width="13.24" height="13.23" fill="#e03143"/>
<rect x="219.64" y="594.96" width="13.24" height="13.23" fill="#e53940"/>
<rect x="231.58" y="594.96" width="13.24" height="13.23" fill="#f5815a"/>
<rect x="243.52" y="594.96" width="13.24" height="13.23" fill="#f16647"/>
<rect x="255.46" y="594.96" width="13.24" height="13.23" fill="#f16647"/>
<rect x="267.40" y="594.96" width="13.24" height="13.23" fill="#f5815a"/>
<rect x="279.35" y="594.96" width="13.24" height="13.23" fill="#f37651"/>
<rect x="291.29" y="594.96" width="13.24" height="13.23" fill="#f37651"/>
<rect x="303.23" y="594.96" width="13.24" height="13.23" fill="#f37651"/>
<rect x="315.17" y="594.96" width="13.24" height="13.23" fill="#f5815a"/>
<rect x="327.11" y="594.96" width="13.24" height="13.23" fill="#f69d74"/>
<rect x="339.05" y="594.96" width="13.24" height="13.23" fill="#faebdd"/>
<rect x="351.00" y="594.96" width="13.24" height="13.23" fill="#f6ad86"/>
<rect x="362.94" y="594.96" width="13.24" height="13.23" fill="#f6b590"/>
<rect x="374.88" y="594.96" width="13.24" height="13.23" fill="#f69d74"/>
<rect x="386.82" y="594.96" width="13.24" height="13.23" fill="#f5956b"/>
<rect x="398.76" y="594.96" width="13.24" height="13.23" fill="#f69d74"/>
<rect x="410.71" y="594.96" width="13.24" height="13.23" fill="#f6ad86"/>
<rect x="422.65" y="594.96" width="13.24" height="13.23" fill="#f6b590"/>
<rect x="434.59" y="594.96" width="13.24" height="13.23" fill="#f6b590"/>
<rect x="446.53" y="594.96" width="13.24" height="13.23" fill="#f6ad86"/>
<rect x="458.47" y="594.96" width="13.24" height="13.23" fill="#f6a57d"/>
<rect x="470.42" y="594.96" width="13.24" height="13.23" fill="#f6a57d"/>
<rect x="482.36" y="594.96" width="11.94" height="13.23" fill="#f6c09f"/>
<rect x="124.10" y="606.89" width="13.24" height="13.23" fill="#641f54"/>
<rect x="136.04" y="606.89" width="13.24" height="13.23" fill="#641f54"/>
<rect x="147.98" y="606.89" width="13.24" height="13.23" fill="#641f54"/>
<rect x="159.93" y="606.89" width="13.24" height="13.23" fill="#e03143"/>
<rect x="171.87" y="606.89" width="13.24" height="13.23" fill="#f16647"/>
<rect x="183.81" y="606.89" width="13.24" height="13.23" fill="#ec4b3e"/>
<rect x="195.75" y="606.89" width="13.24" height="13.23" fill="#cf1e4d"/>
<rect x="207.69" y="606.89" width="13.24" height="13.23" fill="#ba1656"/>
<rect x="219.64" y="606.89" width="13.24" height="13.23" fill="#c51852"/>
<rect x="231.58" y="606.89" width="13.24" height="13.23" fill="#f37651"/>
<rect x="243.52" y="606.89" width="13.24" height="13.23" fill="#ec4b3e"/>
<rect x="255.46" y="606.89" width="13.24" height="13.23" fill="#f58c64"/>
<rect x="267.40" y="606.89" width="13.24" height="13.23" fill="#f5956b"/>
<rect x="279.35" y="606.89" width="13.24" height="13.23" fill="#f16647"/>
<rect x="291.29" y="606.89" width="13.24" height="13.23" fill="#f26e4b"/>
<rect x="303.23" y="606.89" width="13.24" height="13.23" fill="#f37651"/>
<rect x="315.17" y="606.89" width="13.24" height="13.23" fill="#f5815a"/>
<rect x="327.11" y="606.89" width="13.24" height="13.23" fill="#f6b590"/>
<rect x="339.05" y="606.89" width="13.24" height="13.23" fill="#f6ad86"/>
<rect x="351.00" y="606.89" width="13.24" height="13.23" fill="#faebdd"/>
<rect x="362.94" y="606.89" width="13.24" height="13.23" fill="#f6c09f"/>
<rect x="374.88" y="606.89" width="13.24" height="13.23" fill="#f6b590"/>
<rect x="386.82" y="606.89" width="13.24" height="13.23" fill="#f58c64"/>
<rect x="398.76" y="606.89" width="13.24" height="13.23" fill="#f58c64"/>
<rect x="410.71" y="606.89" width="13.24" height="13.23" fill="#f6a57d"/>
<rect x="422.65" y="606.89" width="13.24" height="13.23" fill="#f6a57d"/>
<rect x="434.59" y="606.89" width="13.24" height="13.23" fill="#f69d74"/>
<rect x="446.53" y="606.89" width="13.24" height="13.23" fill="#f69d74"/>
<rect x="458.47" y="606.89" width="13.24" height="13.23" fill="#f6a57d"/>
<rect x="470.42" y="606.89" width="13.24" height="13.23" fill="#f69d74"/>
<rect x="482.36" y="606.89" width="11.94" height="13.23" fill="#f69d74"/>
<rect x="124.10" y="618.82" width="13.24" height="13.23" fill="#8f1d5b"/>
<rect x="136.04" y="618.82" width="13.24" height="13.23" fill="#891e5b"/>
<rect x="147.98" y="618.82" width="13.24" height="13.23" fill="#891e5b"/>
<rect x="159.93" y="618.82" width="13.24" height="13.23" fill="#e53940"/>
<rect x="171.87" y="618.82" width="13.24" height="13.23" fill="#f5815a"/>
<rect x="183.81" y="618.82" width="13.24" height="13.23" fill="#f16647"/>
<rect x="195.75" y="618.82" width="13.24" height="13.23" fill="#e03143"/>
<rect x="207.69" y="618.82" width="13.24" height="13.23" fill="#c51852"/>
<rect x="219.64" y="618.82" width="13.24" height="13.23" fill="#d82748"/>
<rect x="231.58" y="618.82" width="13.24" height="13.23" fill="#f5815a"/>
<rect x="243.52" y="618.82" width="13.24" height="13.23" fill="#ee5440"/>
<rect x="255.46" y="618.82" width="13.24" height="13.23" fill="#f26e4b"/>
<rect x="267.40" y="618.82" width="13.24" height="13.23" fill="#f5956b"/>
<rect x="279.35" y="618.82" width="13.24" height="13.23" fill="#f26e4b"/>
<rect x="291.29" y="618.82" width="13.24" height="13.23" fill="#f37651"/>
<rect x="303.23" y="618.82" width="13.24" height="13.23" fill="#f37651"/>
<rect x="315.17" y="618.82" width="13.24" height="13.23" fill="#f5815a"/>
<rect x="327.11" y="618.82" width="13.24" height="13.23" fill="#f6b590"/>
<rect x="339.05" y="618.82" width="13.24" height="13.23" fill="#f6b590"/>
<rect x="351.00" y="618.82" width="13.24" height="13.23" fill="#f6c09f"/>
<rect x="362.94" y="618.82" width="13.24" height="13.23" fill="#faebdd"/>
<rect x="374.88" y="618.82" width="13.24" height="13.23" fill="#f6c09f"/>
<rect x="386.82" y="618.82" width="13.24" height="13.23" fill="#f58c64"/>
<rect x="398.76" y="618.82" width="13.24" height="13.23" fill="#f5956b"/>
<rect x="410.71" y="618.82" width="13.24" height="13.23" fill="#f6a57d"/>
<rect x="422.65" y="618.82" width="13.24" height="13.23" fill="#f6ad86"/>
<rect x="434.59" y="618.82" width="13.24" height="13.23" fill="#f6ad86"/>
<rect x="446.53" y="618.82" width="13.24" height="13.23" fill="#f6ad86"/>
<rect x="458.47" y="618.82" width="13.24" height="13.23" fill="#f6a57d"/>
<rect x="470.42" y="618.82" width="13.24" height="13.23" fill="#f5956b"/>
<rect x="482.36" y="618.82" width="11.94" height="13.23" fill="#f6a57d"/>
<rect x="124.10" y="630.74" width="13.24" height="13.23" fill="#8f1d5b"/>
<rect x="136.04" y="630.74" width="13.24" height="13.23" fill="#891e5b"/>
<rect x="147.98" y="630.74" width="13.24" height="13.23" fill="#891e5b"/>
<rect x="159.93" y="630.74" width="13.24" height="13.23" fill="#e9423f"/>
<rect x="171.87" y="630.74" width="13.24" height="13.23" fill="#f37651"/>
<rect x="183.81" y="630.74" width="13.24" height="13.23" fill="#ee5440"/>
<rect x="195.75" y="630.74" width="13.24" height="13.23" fill="#e53940"/>
<rect x="207.69" y="630.74" width="13.24" height="13.23" fill="#cf1e4d"/>
<rect x="219.64" y="630.74" width="13.24" height="13.23" fill="#d82748"/>
<rect x="231.58" y="630.74" width="13.24" height="13.23" fill="#f5815a"/>
<rect x="243.52" y="630.74" width="13.24" height="13.23" fill="#ee5440"/>
<rect x="255.46" y="630.74" width="13.24" height="13.23" fill="#f16647"/>
<rect x="267.40" y="630.74" width="13.24" height="13.23" fill="#f5956b"/>
<rect x="279.35" y="630.74" width="13.24" height="13.23" fill="#f5815a"/>
<rect x="291.29" y="630.74" width="13.24" height="13.23" fill="#f37651"/>
<rect x="303.23" y="630.74" width="13.24" height="13.23" fill="#f26e4b"/>
<rect x="315.17" y="630.74" width="13.24" height="13.23" fill="#f5815a"/>
<rect x="327.11" y="630.74" width="13.24" height="13.23" fill="#f6b590"/>
<rect x="339.05" y="630.74" width="13.24" height="13.23" fill="#f69d74"/>
<rect x="351.00" y="630.74" width="13.24" height="13.23" fill="#f6b590"/>
<rect x="362.94" y="630.74" width="13.24" height="13.23" fill="#f6c09f"/>
<rect x="374.88" y="630.74" width="13.24" height="13.23" fill="#faebdd"/>
<rect x="386.82" y="630.74" width="13.24" height="13.23" fill="#f37651"/>
<rect x="398.76" y="630.74" width="13.24" height="13.23" fill="#f69d74"/>
<rect x="410.71" y="630.74" width="13.24" height="13.23" fill="#f6a57d"/>
<rect x="422.65" y="630.74" width="13.24" height="13.23" fill="#f6a57d"/>
<rect x="434.59" y="630.74" width="13.24" height="13.23" fill="#f6ad86"/>
<rect x="446.53" y="630.74" width="13.24" height="13.23" fill="#f6ad86"/>
<rect x="458.47" y="630.74" width="13.24" height="13.23" fill="#f6a57d"/>
<rect x="470.42" y="630.74" width="13.24" height="13.23" fill="#f58c64"/>
<rect x="482.36" y="630.74" width="11.94" height="13.23" fill="#f5956b"/>
<rect x="124.10" y="642.67" width="13.24" height="13.23" fill="#961c5b"/>
<rect x="136.04" y="642.67" width="13.24" height="13.23" fill="#a21a5b"/>
<rect x="147.98" y="642.67" width="13.24" height="13.23" fill="#ba1656"/>
<rect x="159.93" y="642.67" width="13.24" height="13.23" fill="#cf1e4d"/>
<rect x="171.87" y="642.67" width="13.24" height="13.23" fill="#f16647"/>
<rect x="183.81" y="642.67" width="13.24" height="13.23" fill="#e53940"/>
<rect x="195.75" y="642.67" width="13.24" height="13.23" fill="#ea463e"/>
<rect x="207.69" y="642.67" width="13.24" height="13.23" fill="#e03143"/>
<rect x="219.64" y="642.67" width="13.24" height="13.23" fill="#e03143"/>
<rect x="231.58" y="642.67" width="13.24" height="13.23" fill="#f5815a"/>
<rect x="243.52" y="642.67" width="13.24" height="13.23" fill="#f26e4b"/>
<rect x="255.46" y="642.67" width="13.24" height="13.23" fill="#d82748"/>
<rect x="267.40" y="642.67" width="13.24" height="13.23" fill="#ee5440"/>
<rect x="279.35" y="642.67" width="13.24" height="13.23" fill="#e9423f"/>
<rect x="291.29" y="642.67" width="13.24" height="13.23" fill="#f16647"/>
<rect x="303.23" y="642.67" width="13.24" height="13.23" fill="#f26e4b"/>
<rect x="315.17" y="642.67" width="13.24" height="13.23" fill="#f16647"/>
<rect x="327.11" y="642.67" width="13.24" height="13.23" fill="#f5815a"/>
<rect x="339.05" y="642.67" width="13.24" height="13.23" fill="#f5956b"/>
<rect x="351.00" y="642.67" width="13.24" height="13.23" fill="#f58c64"/>
<rect x="362.94" y="642.67" width="13.24" height="13.23" fill="#f58c64"/>
<rect x="374.88" y="642.67" width="13.24" height="13.23" fill="#f37651"/>
<rect x="386.82" y="642.67" width="13.24" height="13.23" fill="#faebdd"/>
<rect x="398.76" y="642.67" width="13.24" height="13.23" fill="#f58c64"/>
<rect x="410.71" y="642.67" width="13.24" height="13.23" fill="#f6ad86"/>
<rect x="422.65" y="642.67" width="13.24" height="13.23" fill="#f6b590"/>
<rect x="434.59" y="642.67" width="13.24" height="13.23" fill="#f69d74"/>
<rect x="446.53" y="642.67" width="13.24" height="13.23" fill="#f69d74"/>
<rect x="458.47" y="642.67" width="13.24" height="13.23" fill="#f6a57d"/>
<rect x="470.42" y="642.67" width="13.24" height="13.23" fill="#f6c09f"/>
<rect x="482.36" y="642.67" width="11.94" height="13.23" fill="#f69d74"/>
<rect x="124.10" y="654.59" width="13.24" height="13.23" fill="#c51852"/>
<rect x="136.04" y="654.59" width="13.24" height="13.23" fill="#c51852"/>
<rect x="147.98" y="654.59" width="13.24" height="13.23" fill="#ba1656"/>
<rect x="159.93" y="654.59" width="13.24" height="13.23" fill="#e9423f"/>
<rect x="171.87" y="654.59" width="13.24" height="13.23" fill="#f16647"/>
<rect x="183.81" y="654.59" width="13.24" height="13.23" fill="#e53940"/>
<rect x="195.75" y="654.59" width="13.24" height="13.23" fill="#ef5941"/>
<rect x="207.69" y="654.59" width="13.24" height="13.23" fill="#e9423f"/>
<rect x="219.64" y="654.59" width="13.24" height="13.23" fill="#e9423f"/>
<rect x="231.58" y="654.59" width="13.24" height="13.23" fill="#f5956b"/>
<rect x="243.52" y="654.59" width="13.24" height="13.23" fill="#f37651"/>
<rect x="255.46" y="654.59" width="13.24" height="13.23" fill="#c51852"/>
<rect x="267.40" y="654.59" width="13.24" height="13.23" fill="#f37651"/>
<rect x="279.35" y="654.59" width="13.24" height="13.23" fill="#f58c64"/>
<rect x="291.29" y="654.59" width="13.24" height="13.23" fill="#f16647"/>
<rect x="303.23" y="654.59" width="13.24" height="13.23" fill="#f26e4b"/>
<rect x="315.17" y="654.59" width="13.24" height="13.23" fill="#f26e4b"/>
<rect x="327.11" y="654.59" width="13.24" height="13.23" fill="#f5815a"/>
<rect x="339.05" y="654.59" width="13.24" height="13.23" fill="#f69d74"/>
<rect x="351.00" y="654.59" width="13.24" height="13.23" fill="#f58c64"/>
<rect x="362.94" y="654.59" width="13.24" height="13.23" fill="#f5956b"/>
<rect x="374.88" y="654.59" width="13.24" height="13.23" fill="#f69d74"/>
<rect x="386.82" y="654.59" width="13.24" height="13.23" fill="#f58c64"/>
<rect x="398.76" y="654.59" width="13.24" height="13.23" fill="#faebdd"/>
<rect x="410.71" y="654.59" width="13.24" height="13.23" fill="#f6ad86"/>
<rect x="422.65" y="654.59" width="13.24" height="13.23" fill="#f6a57d"/>
<rect x="434.59" y="654.59" width="13.24" height="13.23" fill="#f6b590"/>
<rect x="446.53" y="654.59" width="13.24" height="13.23" fill="#f6a57d"/>
<rect x="458.47" y="654.59" width="13.24" height="13.23" fill="#f69d74"/>
<rect x="470.42" y="654.59" width="13.24" height="13.23" fill="#f69d74"/>
<rect x="482.36" y="654.59" width="11.94" height="13.23" fill="#f69d74"/>
<rect x="124.10" y="666.52" width="13.24" height="13.23" fill="#ba1656"/>
<rect x="136.04" y="666.52" width="13.24" height="13.23" fill="#cf1e4d"/>
<rect x="147.98" y="666.52" width="13.24" height="13.23" fill="#d82748"/>
<rect x="159.93" y="666.52" width="13.24" height="13.23" fill="#e9423f"/>
<rect x="171.87" y="666.52" width="13.24" height="13.23" fill="#f58c64"/>
<rect x="183.81" y="666.52" width="13.24" height="13.23" fill="#f16647"/>
<rect x="195.75" y="666.52" width="13.24" height="13.23" fill="#f47c55"/>
<rect x="207.69" y="666.52" width="13.24" height="13.23" fill="#f05c42"/>
<rect x="219.64" y="666.52" width="13.24" height="13.23" fill="#f05e43"/>
<rect x="231.58" y="666.52" width="13.24" height="13.23" fill="#f6a57d"/>
<rect x="243.52" y="666.52" width="13.24" height="13.23" fill="#f5956b"/>
<rect x="255.46" y="666.52" width="13.24" height="13.23" fill="#e03143"/>
<rect x="267.40" y="666.52" width="13.24" height="13.23" fill="#f5815a"/>
<rect x="279.35" y="666.52" width="13.24" height="13.23" fill="#f16647"/>
<rect x="291.29" y="666.52" width="13.24" height="13.23" fill="#f5815a"/>
<rect x="303.23" y="666.52" width="13.24" height="13.23" fill="#f37651"/>
<rect x="315.17" y="666.52" width="13.24" height="13.23" fill="#f37651"/>
<rect x="327.11" y="666.52" width="13.24" height="13.23" fill="#f69d74"/>
<rect x="339.05" y="666.52" width="13.24" height="13.23" fill="#f6ad86"/>
<rect x="351.00" y="666.52" width="13.24" height="13.23" fill="#f6a57d"/>
<rect x="362.94" y="666.52" width="13.24" height="13.23" fill="#f6a57d"/>
<rect x="374.88" y="666.52" width="13.24" height="13.23" fill="#f6a57d"/>
<rect x="386.82" y="666.52" width="13.24" height="13.23" fill="#f6ad86"/>
<rect x="398.76" y="666.52" width="13.24" height="13.23" fill="#f6ad86"/>
<rect x="410.71" y="666.52" width="13.24" height="13.23" fill="#faebdd"/>
<rect x="422.65" y="666.52" width="13.24" height="13.23" fill="#f7ccaf"/>
<rect x="434.59" y="666.52" width="13.24" height="13.23" fill="#f6c09f"/>
<rect x="446.53" y="666.52" width="13.24" height="13.23" fill="#f6b590"/>
<rect x="458.47" y="666.52" width="13.24" height="13.23" fill="#f6c09f"/>
<rect x="470.42" y="666.52" width="13.24" height="13.23" fill="#f6c09f"/>
<rect x="482.36" y="666.52" width="11.94" height="13.23" fill="#f6b590"/>
<rect x="124.10" y="678.45" width="13.24" height="13.23" fill="#cf1e4d"/>
<rect x="136.04" y="678.45" width="13.24" height="13.23" fill="#cf1e4d"/>
<rect x="147.98" y="678.45" width="13.24" height="13.23" fill="#d82748"/>
<rect x="159.93" y="678.45" width="13.24" height="13.23" fill="#e9423f"/>
<rect x="171.87" y="678.45" width="13.24" height="13.23" fill="#f58c64"/>
<rect x="183.81" y="678.45" width="13.24" height="13.23" fill="#f26e4b"/>
<rect x="195.75" y="678.45" width="13.24" height="13.23" fill="#f47c55"/>
<rect x="207.69" y="678.45" width="13.24" height="13.23" fill="#f16446"/>
<rect x="219.64" y="678.45" width="13.24" height="13.23" fill="#f16647"/>
<rect x="231.58" y="678.45" width="13.24" height="13.23" fill="#f6ad86"/>
<rect x="243.52" y="678.45" width="13.24" height="13.23" fill="#f5956b"/>
<rect x="255.46" y="678.45" width="13.24" height="13.23" fill="#e9423f"/>
<rect x="267.40" y="678.45" width="13.24" height="13.23" fill="#f26e4b"/>
<rect x="279.35" y="678.45" width="13.24" height="13.23" fill="#f05e43"/>
<rect x="291.29" y="678.45" width="13.24" height="13.23" fill="#f5815a"/>
<rect x="303.23" y="678.45" width="13.24" height="13.23" fill="#f26e4b"/>
<rect x="315.17" y="678.45" width="13.24" height="13.23" fill="#f26e4b"/>
<rect x="327.11" y="678.45" width="13.24" height="13.23" fill="#f6ad86"/>
<rect x="339.05" y="678.45" width="13.24" height="13.23" fill="#f6b590"/>
<rect x="351.00" y="678.45" width="13.24" height="13.23" fill="#f6a57d"/>
<rect x="362.94" y="678.45" width="13.24" height="13.23" fill="#f6ad86"/>
<rect x="374.88" y="678.45" width="13.24" height="13.23" fill="#f6a57d"/>
<rect x="386.82" y="678.45" width="13.24" height="13.23" fill="#f6b590"/>
<rect x="398.76" y="678.45" width="13.24" height="13.23" fill="#f6a57d"/>
<rect x="410.71" y="678.45" width="13.24" height="13.23" fill="#f7ccaf"/>
<rect x="422.65" y="678.45" width="13.24" height="13.23" fill="#faebdd"/>
<rect x="434.59" y="678.45" width="13.24" height="13.23" fill="#f6c09f"/>
<rect x="446.53" y="678.45" width="13.24" height="13.23" fill="#f6c09f"/>
<rect x="458.47" y="678.45" width="13.24" height="13.23" fill="#f6b590"/>
<rect x="470.42" y="678.45" width="13.24" height="13.23" fill="#f6c09f"/>
<rect x="482.36" y="678.45" width="11.94" height="13.23" fill="#f6b590"/>
<rect x="124.10" y="690.37" width="13.24" height="13.23" fill="#d82748"/>
<rect x="136.04" y="690.37" width="13.24" height="13.23" fill="#c51852"/>
<rect x="147.98" y="690.37" width="13.24" height="13.23" fill="#cf1e4d"/>
<rect x="159.93" y="690.37" width="13.24" height="13.23" fill="#ec4b3e"/>
<rect x="171.87" y="690.37" width="13.24" height="13.23" fill="#f58c64"/>
<rect x="183.81" y="690.37" width="13.24" height="13.23" fill="#f16647"/>
<rect x="195.75" y="690.37" width="13.24" height="13.23" fill="#f3724e"/>
<rect x="207.69" y="690.37" width="13.24" height="13.23" fill="#f16446"/>
<rect x="219.64" y="690.37" width="13.24" height="13.23" fill="#f16647"/>
<rect x="231.58" y="690.37" width="13.24" height="13.23" fill="#f6b590"/>
<rect x="243.52" y="690.37" width="13.24" height="13.23" fill="#f5956b"/>
<rect x="255.46" y="690.37" width="13.24" height="13.23" fill="#e9423f"/>
<rect x="267.40" y="690.37" width="13.24" height="13.23" fill="#f58c64"/>
<rect x="279.35" y="690.37" width="13.24" height="13.23" fill="#f58c64"/>
<rect x="291.29" y="690.37" width="13.24" height="13.23" fill="#f5815a"/>
<rect x="303.23" y="690.37" width="13.24" height="13.23" fill="#f37651"/>
<rect x="315.17" y="690.37" width="13.24" height="13.23" fill="#f5815a"/>
<rect x="327.11" y="690.37" width="13.24" height="13.23" fill="#f6ad86"/>
<rect x="339.05" y="690.37" width="13.24" height="13.23" fill="#f6b590"/>
<rect x="351.00" y="690.37" width="13.24" height="13.23" fill="#f69d74"/>
<rect x="362.94" y="690.37" width="13.24" height="13.23" fill="#f6ad86"/>
<rect x="374.88" y="690.37" width="13.24" height="13.23" fill="#f6ad86"/>
<rect x="386.82" y="690.37" width="13.24" height="13.23" fill="#f69d74"/>
<rect x="398.76" y="690.37" width="13.24" height="13.23" fill="#f6b590"/>
<rect x="410.71" y="690.37" width="13.24" height="13.23" fill="#f6c09f"/>
<rect x="422.65" y="690.37" width="13.24" height="13.23" fill="#f6c09f"/>
<rect x="434.59" y="690.37" width="13.24" height="13.23" fill="#faebdd"/>
<rect x="446.53" y="690.37" width="13.24" height="13.23" fill="#f6c09f"/>
<rect x="458.47" y="690.37" width="13.24" height="13.23" fill="#f6ad86"/>
<rect x="470.42" y="690.37" width="13.24" height="13.23" fill="#f6ad86"/>
<rect x="482.36" y="690.37" width="11.94" height="13.23" fill="#f6b590"/>
<rect x="124.10" y="702.30" width="13.24" height="13.23" fill="#c51852"/>
<rect x="136.04" y="702.30" width="13.24" height="13.23" fill="#d82748"/>
<rect x="147.98" y="702.30" width="13.24" height="13.23" fill="#d82748"/>
<rect x="159.93" y="702.30" width="13.24" height="13.23" fill="#ec4b3e"/>
<rect x="171.87" y="702.30" width="13.24" height="13.23" fill="#f58c64"/>
<rect x="183.81" y="702.30" width="13.24" height="13.23" fill="#f26e4b"/>
<rect x="195.75" y="702.30" width="13.24" height="13.23" fill="#f47c55"/>
<rect x="207.69" y="702.30" width="13.24" height="13.23" fill="#f05e43"/>
<rect x="219.64" y="702.30" width="13.24" height="13.23" fill="#f16647"/>
<rect x="231.58" y="702.30" width="13.24" height="13.23" fill="#f6b590"/>
<rect x="243.52" y="702.30" width="13.24" height="13.23" fill="#f58c64"/>
<rect x="255.46" y="702.30" width="13.24" height="13.23" fill="#e53940"/>
<rect x="267.40" y="702.30" width="13.24" height="13.23" fill="#f5815a"/>
<rect x="279.35" y="702.30" width="13.24" height="13.23" fill="#f5815a"/>
<rect x="291.29" y="702.30" width="13.24" height="13.23" fill="#f5956b"/>
<rect x="303.23" y="702.30" width="13.24" height="13.23" fill="#f26e4b"/>
<rect x="315.17" y="702.30" width="13.24" height="13.23" fill="#f5815a"/>
<rect x="327.11" y="702.30" width="13.24" height="13.23" fill="#f6b590"/>
<rect x="339.05" y="702.30" width="13.24" height="13.23" fill="#f6ad86"/>
<rect x="351.00" y="702.30" width="13.24" height="13.23" fill="#f69d74"/>
<rect x="362.94" y="702.30" width="13.24" height="13.23" fill="#f6ad86"/>
<rect x="374.88" y="702.30" width="13.24" height="13.23" fill="#f6ad86"/>
<rect x="386.82" y="702.30" width="13.24" height="13.23" fill="#f69d74"/>
<rect x="398.76" y="702.30" width="13.24" height="13.23" fill="#f6a57d"/>
<rect x="410.71" y="702.30" width="13.24" height="13.23" fill="#f6b590"/>
<rect x="422.65" y="702.30" width="13.24" height="13.23" fill="#f6c09f"/>
<rect x="434.59" y="702.30" width="13.24" height="13.23" fill="#f6c09f"/>
<rect x="446.53" y="702.30" width="13.24" height="13.23" fill="#faebdd"/>
<rect x="458.47" y="702.30" width="13.24" height="13.23" fill="#f6ad86"/>
<rect x="470.42" y="702.30" width="13.24" height="13.23" fill="#f6a57d"/>
<rect x="482.36" y="702.30" width="11.94" height="13.23" fill="#f6ad86"/>
<rect x="124.10" y="714.22" width="13.24" height="13.23" fill="#a21a5b"/>
<rect x="136.04" y="714.22" width="13.24" height="13.23" fill="#c51852"/>
<rect x="147.98" y="714.22" width="13.24" height="13.23" fill="#ba1656"/>
<rect x="159.93" y="714.22" width="13.24" height="13.23" fill="#cf1e4d"/>
<rect x="171.87" y="714.22" width="13.24" height="13.23" fill="#f26e4b"/>
<rect x="183.81" y="714.22" width="13.24" height="13.23" fill="#e9423f"/>
<rect x="195.75" y="714.22" width="13.24" height="13.23" fill="#f16245"/>
<rect x="207.69" y="714.22" width="13.24" height="13.23" fill="#e9443f"/>
<rect x="219.64" y="714.22" width="13.24" height="13.23" fill="#ec4b3e"/>
<rect x="231.58" y="714.22" width="13.24" height="13.23" fill="#f69d74"/>
<rect x="243.52" y="714.22" width="13.24" height="13.23" fill="#f5815a"/>
<rect x="255.46" y="714.22" width="13.24" height="13.23" fill="#e03143"/>
<rect x="267.40" y="714.22" width="13.24" height="13.23" fill="#f58c64"/>
<rect x="279.35" y="714.22" width="13.24" height="13.23" fill="#f37651"/>
<rect x="291.29" y="714.22" width="13.24" height="13.23" fill="#f5815a"/>
<rect x="303.23" y="714.22" width="13.24" height="13.23" fill="#f26e4b"/>
<rect x="315.17" y="714.22" width="13.24" height="13.23" fill="#f58c64"/>
<rect x="327.11" y="714.22" width="13.24" height="13.23" fill="#f69d74"/>
<rect x="339.05" y="714.22" width="13.24" height="13.23" fill="#f6a57d"/>
<rect x="351.00" y="714.22" width="13.24" height="13.23" fill="#f6a57d"/>
<rect x="362.94" y="714.22" width="13.24" height="13.23" fill="#f6a57d"/>
<rect x="374.88" y="714.22" width="13.24" height="13.23" fill="#f6a57d"/>
<rect x="386.82" y="714.22" width="13.24" height="13.23" fill="#f6a57d"/>
<rect x="398.76" y="714.22" width="13.24" height="13.23" fill="#f69d74"/>
<rect x="410.71" y="714.22" width="13.24" height="13.23" fill="#f6c09f"/>
<rect x="422.65" y="714.22" width="13.24" height="13.23" fill="#f6b590"/>
<rect x="434.59" y="714.22" width="13.24" height="13.23" fill="#f6ad86"/>
<rect x="446.53" y="714.22" width="13.24" height="13.23" fill="#f6ad86"/>
<rect x="458.47" y="714.22" width="13.24" height="13.23" fill="#faebdd"/>
<rect x="470.42" y="714.22" width="13.24" height="13.23" fill="#f6ad86"/>
<rect x="482.36" y="714.22" width="11.94" height="13.23" fill="#f6a57d"/>
<rect x="124.10" y="726.15" width="13.24" height="13.23" fill="#a21a5b"/>
<rect x="136.04" y="726.15" width="13.24" height="13.23" fill="#ba1656"/>
<rect x="147.98" y="726.15" width="13.24" height="13.23" fill="#ba1656"/>
<rect x="159.93" y="726.15" width="13.24" height="13.23" fill="#e53940"/>
<rect x="171.87" y="726.15" width="13.24" height="13.23" fill="#f5815a"/>
<rect x="183.81" y="726.15" width="13.24" height="13.23" fill="#ee5440"/>
<rect x="195.75" y="726.15" width="13.24" height="13.23" fill="#f16245"/>
<rect x="207.69" y="726.15" width="13.24" height="13.23" fill="#e9423f"/>
<rect x="219.64" y="726.15" width="13.24" height="13.23" fill="#e9423f"/>
<rect x="231.58" y="726.15" width="13.24" height="13.23" fill="#f5956b"/>
<rect x="243.52" y="726.15" width="13.24" height="13.23" fill="#f5815a"/>
<rect x="255.46" y="726.15" width="13.24" height="13.23" fill="#ec4b3e"/>
<rect x="267.40" y="726.15" width="13.24" height="13.23" fill="#f16647"/>
<rect x="279.35" y="726.15" width="13.24" height="13.23" fill="#f05e43"/>
<rect x="291.29" y="726.15" width="13.24" height="13.23" fill="#f5815a"/>
<rect x="303.23" y="726.15" width="13.24" height="13.23" fill="#f5815a"/>
<rect x="315.17" y="726.15" width="13.24" height="13.23" fill="#f37651"/>
<rect x="327.11" y="726.15" width="13.24" height="13.23" fill="#f69d74"/>
<rect x="339.05" y="726.15" width="13.24" height="13.23" fill="#f6a57d"/>
<rect x="351.00" y="726.15" width="13.24" height="13.23" fill="#f69d74"/>
<rect x="362.94" y="726.15" width="13.24" height="13.23" fill="#f5956b"/>
<rect x="374.88" y="726.15" width="13.24" height="13.23" fill="#f58c64"/>
<rect x="386.82" y="726.15" width="13.24" height="13.23" fill="#f6c09f"/>
<rect x="398.76" y="726.15" width="13.24" height="13.23" fill="#f69d74"/>
<rect x="410.71" y="726.15" width="13.24" height="13.23" fill="#f6c09f"/>
<rect x="422.65" y="726.15" width="13.24" height="13.23" fill="#f6c09f"/>
<rect x="434.59" y="726.15" width="13.24" height="13.23" fill="#f6ad86"/>
<rect x="446.53" y="726.15" width="13.24" height="13.23" fill="#f6a57d"/>
<rect x="458.47" y="726.15" width="13.24" height="13.23" fill="#f6ad86"/>
<rect x="470.42" y="726.15" width="13.24" height="13.23" fill="#faebdd"/>
<rect x="482.36" y="726.15" width="11.94" height="13.23" fill="#f6ad86"/>
<rect x="124.10" y="738.07" width="13.24" height="11.93" fill="#ba1656"/>
<rect x="136.04" y="738.07" width="13.24" height="11.93" fill="#961c5b"/>
<rect x="147.98" y="738.07" width="13.24" height="11.93" fill="#ae1859"/>
<rect x="159.93" y="738.07" width="13.24" height="11.93" fill="#d82748"/>
<rect x="171.87" y="738.07" width="13.24" height="11.93" fill="#f5815a"/>
<rect x="183.81" y="738.07" width="13.24" height="11.93" fill="#ee5440"/>
<rect x="195.75" y="738.07" width="13.24" height="11.93" fill="#ed4f3f"/>
<rect x="207.69" y="738.07" width="13.24" height="11.93" fill="#e9423f"/>
<rect x="219.64" y="738.07" width="13.24" height="11.93" fill="#e9423f"/>
<rect x="231.58" y="738.07" width="13.24" height="11.93" fill="#f58c64"/>
<rect x="243.52" y="738.07" width="13.24" height="11.93" fill="#f37651"/>
<rect x="255.46" y="738.07" width="13.24" height="11.93" fill="#ec4b3e"/>
<rect x="267.40" y="738.07" width="13.24" height="11.93" fill="#f05e43"/>
<rect x="279.35" y="738.07" width="13.24" height="11.93" fill="#f05e43"/>
<rect x="291.29" y="738.07" width="13.24" height="11.93" fill="#f5815a"/>
<rect x="303.23" y="738.07" width="13.24" height="11.93" fill="#f26e4b"/>
<rect x="315.17" y="738.07" width="13.24" height="11.93" fill="#f26e4b"/>
<rect x="327.11" y="738.07" width="13.24" height="11.93" fill="#f6a57d"/>
<rect x="339.05" y="738.07" width="13.24" height="11.93" fill="#f6c09f"/>
<rect x="351.00" y="738.07" width="13.24" height="11.93" fill="#f69d74"/>
<rect x="362.94" y="738.07" width="13.24" height="11.93" fill="#f6a57d"/>
<rect x="374.88" y="738.07" width="13.24" height="11.93" fill="#f5956b"/>
<rect x="386.82" y="738.07" width="13.24" height="11.93" fill="#f69d74"/>
<rect x="398.76" y="738.07" width="13.24" height="11.93" fill="#f69d74"/>
<rect x="410.71" y="738.07" width="13.24" height="11.93" fill="#f6b590"/>
<rect x="422.65" y="738.07" width="13.24" height="11.93" fill="#f6b590"/>
<rect x="434.59" y="738.07" width="13.24" height="11.93" fill="#f6b590"/>
<rect x="446.53" y="738.07" width="13.24" height="11.93" fill="#f6ad86"/>
<rect x="458.47" y="738.07" width="13.24" height="11.93" fill="#f6a57d"/>
<rect x="470.42" y="738.07" width="13.24" height="11.93" fill="#f6ad86"/>
<rect x="482.36" y="738.07" width="11.94" height="11.93" fill="#faebdd"/>
</g>
<path d="M142.0 380.3L142.0 365.3M142.0 365.3L154.0 365.3M154.0 365.3L154.0 380.3M130.1 380.3L130.1 356.2M130.1 356.2L148.0 356.2M148.0 356.2L148.0 365.3M177.8 380.3L177.8 358.6M177.8 358.6L189.8 358.6M189.8 358.6L189.8 380.3M165.9 380.3L165.9 346.3M165.9 346.3L183.8 346.3M183.8 346.3L183.8 358.6M213.7 380.3L213.7 371.4M213.7 371.4L225.6 371.4M225.6 371.4L225.6 380.3M201.7 380.3L201.7 362.4M201.7 362.4L219.6 362.4M219.6 362.4L219.6 371.4M237.5 380.3L237.5 352.7M237.5 352.7L249.5 352.7M249.5 352.7L249.5 380.3M210.7 362.4L210.7 339.6M210.7 339.6L243.5 339.6M243.5 339.6L243.5 352.7M174.9 346.3L174.9 333.8M174.9 333.8L227.1 333.8M227.1 333.8L227.1 339.6M139.0 356.2L139.0 313.3M139.0 313.3L201.0 313.3M201.0 313.3L201.0 333.8M309.2 380.3L309.2 364.3M309.2 364.3L321.1 364.3M321.1 364.3L321.1 380.3M297.3 380.3L297.3 359.3M297.3 359.3L315.2 359.3M315.2 359.3L315.2 364.3M285.3 380.3L285.3 358.4M285.3 358.4L306.2 358.4M306.2 358.4L306.2 359.3M273.4 380.3L273.4 353.1M273.4 353.1L295.8 353.1M295.8 353.1L295.8 358.4M368.9 380.3L368.9 368.2M368.9 368.2L380.9 368.2M380.9 368.2L380.9 380.3M357.0 380.3L357.0 363.2M357.0 363.2L374.9 363.2M374.9 363.2L374.9 368.2M345.0 380.3L345.0 362.2M345.0 362.2L365.9 362.2M365.9 362.2L365.9 363.2M333.1 380.3L333.1 360.0M333.1 360.0L355.5 360.0M355.5 360.0L355.5 362.2M416.7 380.3L416.7 371.4M416.7 371.4L428.6 371.4M428.6 371.4L428.6 380.3M440.6 380.3L440.6 370.5M440.6 370.5L452.5 370.5M452.5 370.5L452.5 380.3M422.6 371.4L422.6 367.6M422.6 367.6L446.5 367.6M446.5 367.6L446.5 370.5M476.4 380.3L476.4 365.6M476.4 365.6L488.3 365.6M488.3 365.6L488.3 380.3M464.4 380.3L464.4 363.2M464.4 363.2L482.4 363.2M482.4 363.2L482.4 365.6M434.6 367.6L434.6 361.5M434.6 361.5L473.4 361.5M473.4 361.5L473.4 363.2M404.7 380.3L404.7 358.0M404.7 358.0L454.0 358.0M454.0 358.0L454.0 361.5M392.8 380.3L392.8 355.4M392.8 355.4L429.4 355.4M429.4 355.4L429.4 358.0M344.3 360.0L344.3 351.3M344.3 351.3L411.1 351.3M411.1 351.3L411.1 355.4M284.6 353.1L284.6 335.2M284.6 335.2L377.7 335.2M377.7 335.2L377.7 351.3M261.4 380.3L261.4 294.6M261.4 294.6L331.1 294.6M331.1 294.6L331.1 335.2M170.0 313.3L170.0 292.0M170.0 292.0L296.3 292.0M296.3 292.0L296.3 294.6" fill="none" stroke="#5a5a5a" stroke-width="0.5"/>
<path d="M124.1 398.2L109.1 398.2M109.1 398.2L109.1 410.1M109.1 410.1L124.1 410.1M124.1 386.3L100.0 386.3M100.0 386.3L100.0 404.2M100.0 404.2L109.1 404.2M124.1 434.0L102.4 434.0M102.4 434.0L102.4 445.9M102.4 445.9L124.1 445.9M124.1 422.0L90.1 422.0M90.1 422.0L90.1 439.9M90.1 439.9L102.4 439.9M124.1 469.7L115.2 469.7M115.2 469.7L115.2 481.7M115.2 481.7L124.1 481.7M124.1 457.8L106.2 457.8M106.2 457.8L106.2 475.7M106.2 475.7L115.2 475.7M124.1 493.6L96.5 493.6M96.5 493.6L96.5 505.5M96.5 505.5L124.1 505.5M106.2 466.8L83.4 466.8M83.4 466.8L83.4 499.6M83.4 499.6L96.5 499.6M90.1 431.0L77.6 431.0M77.6 431.0L77.6 483.2M77.6 483.2L83.4 483.2M100.0 395.2L57.1 395.2M57.1 395.2L57.1 457.1M57.1 457.1L77.6 457.1M124.1 565.1L108.1 565.1M108.1 565.1L108.1 577.1M108.1 577.1L124.1 577.1M124.1 553.2L103.1 553.2M103.1 553.2L103.1 571.1M103.1 571.1L108.1 571.1M124.1 541.3L102.2 541.3M102.2 541.3L102.2 562.2M102.2 562.2L103.1 562.2M124.1 529.4L96.9 529.4M96.9 529.4L96.9 551.7M96.9 551.7L102.2 551.7M124.1 624.8L112.0 624.8M112.0 624.8L112.0 636.7M112.0 636.7L124.1 636.7M124.1 612.9L107.0 612.9M107.0 612.9L107.0 630.7M107.0 630.7L112.0 630.7M124.1 600.9L106.0 600.9M106.0 600.9L106.0 621.8M106.0 621.8L107.0 621.8M124.1 589.0L103.8 589.0M103.8 589.0L103.8 611.4M103.8 611.4L106.0 611.4M124.1 672.5L115.2 672.5M115.2 672.5L115.2 684.4M115.2 684.4L124.1 684.4M124.1 696.3L114.3 696.3M114.3 696.3L114.3 708.3M114.3 708.3L124.1 708.3M115.2 678.4L111.4 678.4M111.4 678.4L111.4 702.3M111.4 702.3L114.3 702.3M124.1 732.1L109.4 732.1M109.4 732.1L109.4 744.0M109.4 744.0L124.1 744.0M124.1 720.2L107.0 720.2M107.0 720.2L107.0 738.1M107.0 738.1L109.4 738.1M111.4 690.4L105.3 690.4M105.3 690.4L105.3 729.1M105.3 729.1L107.0 729.1M124.1 660.6L101.8 660.6M101.8 660.6L101.8 709.8M101.8 709.8L105.3 709.8M124.1 648.6L99.2 648.6M99.2 648.6L99.2 685.2M99.2 685.2L101.8 685.2M103.8 600.2L95.1 600.2M95.1 600.2L95.1 666.9M95.1 666.9L99.2 666.9M96.9 540.6L79.0 540.6M79.0 540.6L79.0 633.5M79.0 633.5L95.1 633.5M124.1 517.4L38.4 517.4M38.4 517.4L38.4 587.0M38.4 587.0L79.0 587.0M57.1 426.1L35.8 426.1M35.8 426.1L35.8 552.2M35.8 552.2L38.4 552.2" fill="none" stroke="#5a5a5a" stroke-width="0.5"/>
<g font-size="8.4" fill="#231815">
<text x="500.5" y="389.1">siRad21 &amp; siNIPBL</text>
<text transform="translate(132.6 756.6) rotate(-90)" text-anchor="end">siRad21 &amp; siNIPBL</text>
<text x="500.5" y="401.0">siNIPBL_rep1</text>
<text transform="translate(144.5 756.6) rotate(-90)" text-anchor="end">siNIPBL_rep1</text>
<text x="500.5" y="412.9">siNIPBL_rep2</text>
<text transform="translate(156.5 756.6) rotate(-90)" text-anchor="end">siNIPBL_rep2</text>
<text x="500.5" y="424.8">siRad21_rep1</text>
<text transform="translate(168.4 756.6) rotate(-90)" text-anchor="end">siRad21_rep1</text>
<text x="500.5" y="436.8">siRad21_rep2</text>
<text transform="translate(180.3 756.6) rotate(-90)" text-anchor="end">siRad21_rep2</text>
<text x="500.5" y="448.7">siRad21_rep3</text>
<text transform="translate(192.3 756.6) rotate(-90)" text-anchor="end">siRad21_rep3</text>
<text x="500.5" y="460.6">siNIPBL_si8</text>
<text transform="translate(204.2 756.6) rotate(-90)" text-anchor="end">siNIPBL_si8</text>
<text x="500.5" y="472.5">siNIPBL_48h</text>
<text transform="translate(216.2 756.6) rotate(-90)" text-anchor="end">siNIPBL_48h</text>
<text x="500.5" y="484.5">siNIPBL_72h</text>
<text transform="translate(228.1 756.6) rotate(-90)" text-anchor="end">siNIPBL_72h</text>
<text x="500.5" y="496.4">siMau2</text>
<text transform="translate(240.0 756.6) rotate(-90)" text-anchor="end">siMau2</text>
<text x="500.5" y="508.3">siNIPBL_24h</text>
<text transform="translate(252.0 756.6) rotate(-90)" text-anchor="end">siNIPBL_24h</text>
<text x="500.5" y="520.2">siPDS5AB</text>
<text transform="translate(263.9 756.6) rotate(-90)" text-anchor="end">siPDS5AB</text>
<text x="500.5" y="532.2">siCTCF_626_628</text>
<text transform="translate(275.9 756.6) rotate(-90)" text-anchor="end">siCTCF_626_628</text>
<text x="500.5" y="544.1">siCTCF_rep2</text>
<text transform="translate(287.8 756.6) rotate(-90)" text-anchor="end">siCTCF_rep2</text>
<text x="500.5" y="556.0">siCTCF_rep1</text>
<text transform="translate(299.8 756.6) rotate(-90)" text-anchor="end">siCTCF_rep1</text>
<text x="500.5" y="567.9">siCTCF_120h</text>
<text transform="translate(311.7 756.6) rotate(-90)" text-anchor="end">siCTCF_120h</text>
<text x="500.5" y="579.9">siCTCF_72h</text>
<text transform="translate(323.6 756.6) rotate(-90)" text-anchor="end">siCTCF_72h</text>
<text x="500.5" y="591.8">siPDS5B</text>
<text transform="translate(335.6 756.6) rotate(-90)" text-anchor="end">siPDS5B</text>
<text x="500.5" y="603.7">siPDS5A_72h</text>
<text transform="translate(347.5 756.6) rotate(-90)" text-anchor="end">siPDS5A_72h</text>
<text x="500.5" y="615.7">siWAPL</text>
<text transform="translate(359.5 756.6) rotate(-90)" text-anchor="end">siWAPL</text>
<text x="500.5" y="627.6">siESCO1_rep1</text>
<text transform="translate(371.4 756.6) rotate(-90)" text-anchor="end">siESCO1_rep1</text>
<text x="500.5" y="639.5">siESCO1_rep2</text>
<text transform="translate(383.4 756.6) rotate(-90)" text-anchor="end">siESCO1_rep2</text>
<text x="500.5" y="651.4">JQ1(–)</text>
<text transform="translate(395.3 756.6) rotate(-90)" text-anchor="end">JQ1(–)</text>
<text x="500.5" y="663.4">Control_rep1</text>
<text transform="translate(407.2 756.6) rotate(-90)" text-anchor="end">Control_rep1</text>
<text x="500.5" y="675.3">Control_rep5</text>
<text transform="translate(419.2 756.6) rotate(-90)" text-anchor="end">Control_rep5</text>
<text x="500.5" y="687.2">Control_rep2</text>
<text transform="translate(431.1 756.6) rotate(-90)" text-anchor="end">Control_rep2</text>
<text x="500.5" y="699.1">Control_rep6</text>
<text transform="translate(443.1 756.6) rotate(-90)" text-anchor="end">Control_rep6</text>
<text x="500.5" y="711.1">Control_rep3</text>
<text transform="translate(455.0 756.6) rotate(-90)" text-anchor="end">Control_rep3</text>
<text x="500.5" y="723.0">Control_rep4</text>
<text transform="translate(466.9 756.6) rotate(-90)" text-anchor="end">Control_rep4</text>
<text x="500.5" y="734.9">JQ1(+)</text>
<text transform="translate(478.9 756.6) rotate(-90)" text-anchor="end">JQ1(+)</text>
<text x="500.5" y="746.8">siPDS5A_48h</text>
<text transform="translate(490.8 756.6) rotate(-90)" text-anchor="end">siPDS5A_48h</text>
</g>
<path d="M494.3 386.3h2.6M130.1 750.0v2.6M494.3 398.2h2.6M142.0 750.0v2.6M494.3 410.1h2.6M154.0 750.0v2.6M494.3 422.0h2.6M165.9 750.0v2.6M494.3 434.0h2.6M177.8 750.0v2.6M494.3 445.9h2.6M189.8 750.0v2.6M494.3 457.8h2.6M201.7 750.0v2.6M494.3 469.7h2.6M213.7 750.0v2.6M494.3 481.7h2.6M225.6 750.0v2.6M494.3 493.6h2.6M237.5 750.0v2.6M494.3 505.5h2.6M249.5 750.0v2.6M494.3 517.4h2.6M261.4 750.0v2.6M494.3 529.4h2.6M273.4 750.0v2.6M494.3 541.3h2.6M285.3 750.0v2.6M494.3 553.2h2.6M297.3 750.0v2.6M494.3 565.1h2.6M309.2 750.0v2.6M494.3 577.1h2.6M321.1 750.0v2.6M494.3 589.0h2.6M333.1 750.0v2.6M494.3 600.9h2.6M345.0 750.0v2.6M494.3 612.9h2.6M357.0 750.0v2.6M494.3 624.8h2.6M368.9 750.0v2.6M494.3 636.7h2.6M380.9 750.0v2.6M494.3 648.6h2.6M392.8 750.0v2.6M494.3 660.6h2.6M404.7 750.0v2.6M494.3 672.5h2.6M416.7 750.0v2.6M494.3 684.4h2.6M428.6 750.0v2.6M494.3 696.3h2.6M440.6 750.0v2.6M494.3 708.3h2.6M452.5 750.0v2.6M494.3 720.2h2.6M464.4 750.0v2.6M494.3 732.1h2.6M476.4 750.0v2.6M494.3 744.0h2.6M488.3 750.0v2.6" stroke="#333" stroke-width="0.6" fill="none"/>
<path d="M580 378.5V512.8M580 585.7V643.8" stroke="#333" stroke-width="1.4"/>
<path d="M580 526.2V582.2M580 646.7V739.6" stroke="#c4c4c4" stroke-width="1.2"/>
<g font-size="15.5" fill="#231815">
<text x="587.8" y="432.3">Cohesin</text>
<text x="587.8" y="451.3">&amp; loaders</text>
<text x="587.8" y="560.6">CTCF</text>
<text x="587.8" y="604.4">Unloaders &amp;</text>
<text x="587.8" y="621.9">acetyltrans-</text>
<text x="592.2" y="640.3">ferase</text>
<text x="587.8" y="687.6">Control &amp;</text>
<text x="587.8" y="706.0">JQ1</text>
</g>
<defs><linearGradient id="cb" x1="0" y1="1" x2="0" y2="0">
<stop offset="0.0000" stop-color="#03051a"/>
<stop offset="0.0312" stop-color="#0d0a21"/>
<stop offset="0.0625" stop-color="#180f29"/>
<stop offset="0.0938" stop-color="#241432"/>
<stop offset="0.1250" stop-color="#30173a"/>
<stop offset="0.1562" stop-color="#3c1a42"/>
<stop offset="0.1875" stop-color="#481c48"/>
<stop offset="0.2188" stop-color="#541e4e"/>
<stop offset="0.2500" stop-color="#611f53"/>
<stop offset="0.2812" stop-color="#6e1f57"/>
<stop offset="0.3125" stop-color="#7b1f59"/>
<stop offset="0.3438" stop-color="#891e5b"/>
<stop offset="0.3750" stop-color="#971c5b"/>
<stop offset="0.4062" stop-color="#a4195b"/>
<stop offset="0.4375" stop-color="#b21758"/>
<stop offset="0.4688" stop-color="#bf1654"/>
<stop offset="0.5000" stop-color="#cb1b4f"/>
<stop offset="0.5312" stop-color="#d62449"/>
<stop offset="0.5625" stop-color="#df2f44"/>
<stop offset="0.5938" stop-color="#e73d3f"/>
<stop offset="0.6250" stop-color="#ec4c3e"/>
<stop offset="0.6562" stop-color="#f05c42"/>
<stop offset="0.6875" stop-color="#f26b49"/>
<stop offset="0.7188" stop-color="#f47a54"/>
<stop offset="0.7500" stop-color="#f58860"/>
<stop offset="0.7812" stop-color="#f5966c"/>
<stop offset="0.8125" stop-color="#f6a37a"/>
<stop offset="0.8438" stop-color="#f6b089"/>
<stop offset="0.8750" stop-color="#f6bc99"/>
<stop offset="0.9062" stop-color="#f7c9aa"/>
<stop offset="0.9375" stop-color="#f8d4bc"/>
<stop offset="0.9688" stop-color="#f9e0cd"/>
<stop offset="1.0000" stop-color="#faebdd"/>
</linearGradient></defs>
<rect x="56.5" y="651" width="13.7" height="99.6" fill="url(#cb)"/>
<g font-size="10.2" fill="#1a1a1a">
<text x="76" y="655.2">1.0</text>
<text x="76" y="678.3">0.9</text>
<text x="76" y="701.3">0.8</text>
<text x="76" y="724.7">0.7</text>
<text x="76" y="747.8">0.6</text>
</g>
<path d="M70.2 651.6h3M70.2 674.7h3M70.2 697.7h3M70.2 721.1h3M70.2 744.2h3" stroke="#333" stroke-width="0.7"/>
</svg>
</body></html>
